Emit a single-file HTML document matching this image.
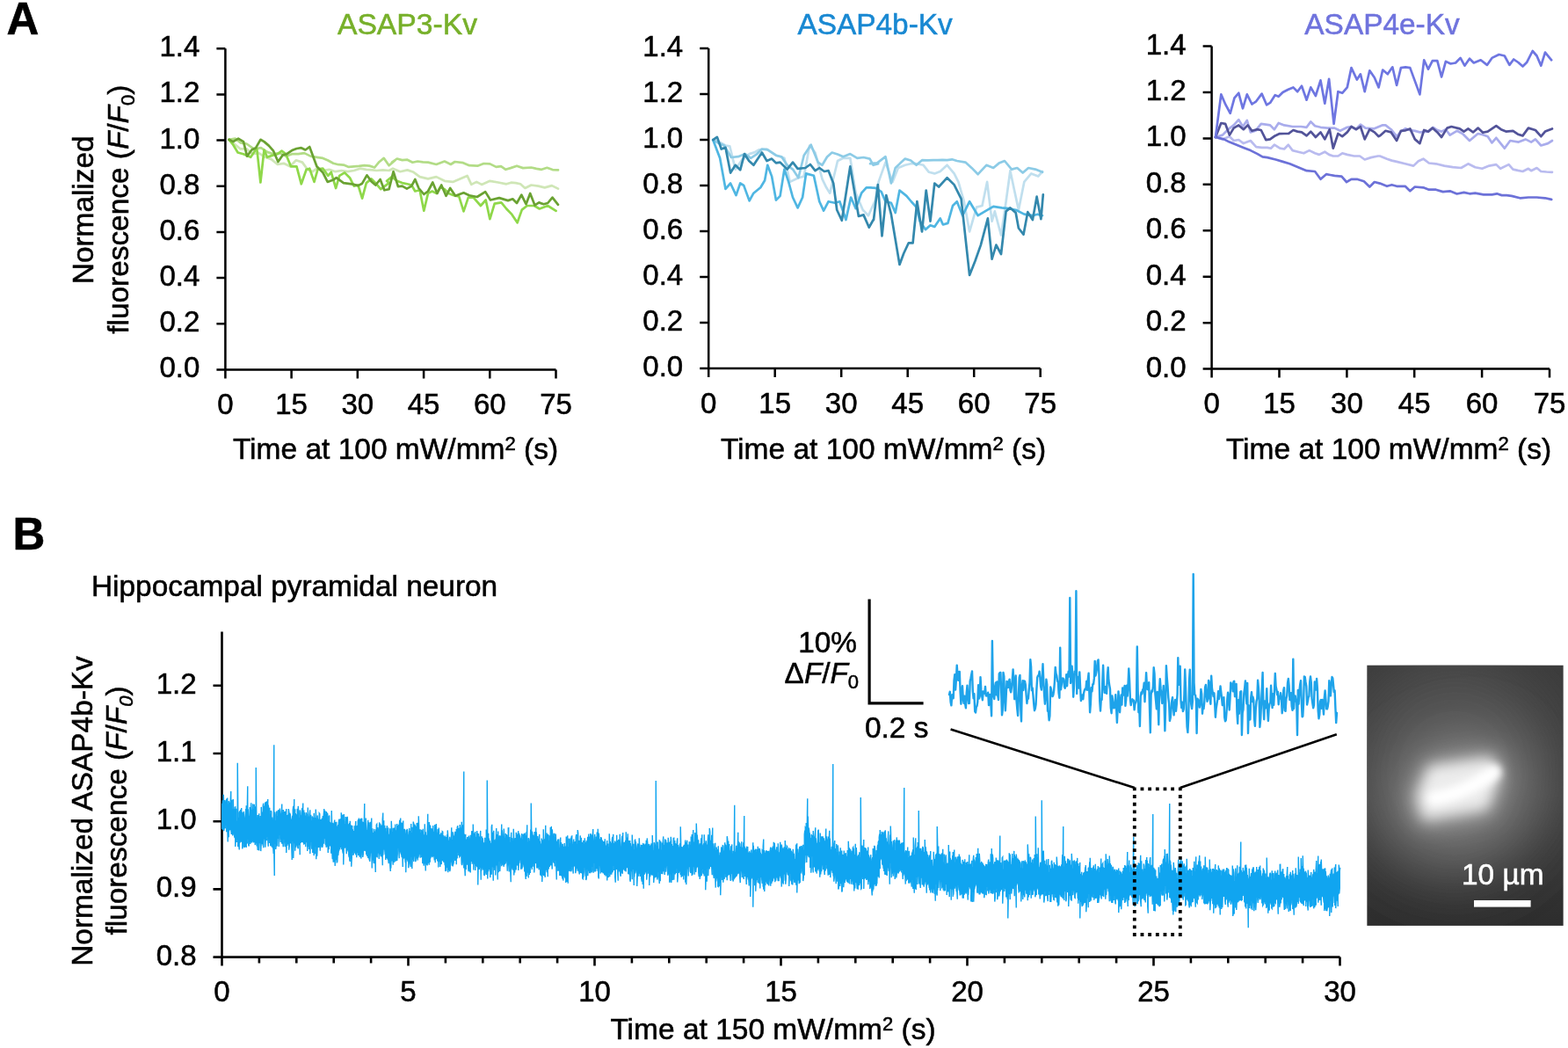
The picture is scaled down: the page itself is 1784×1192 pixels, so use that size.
<!DOCTYPE html>
<html><head><meta charset="utf-8"><title>Figure</title>
<style>html,body{margin:0;padding:0;background:#fff;} svg{display:block;} text{stroke:#000;stroke-width:0.55px;}</style>
</head><body>
<svg width="1784" height="1192" viewBox="0 0 1784 1192" font-family="Liberation Sans, Arial, sans-serif">
<rect width="1784" height="1192" fill="#fff"/>
<text x="7.5" y="39" font-size="51" font-weight="bold">A</text>
<text x="14.5" y="624.7" font-size="51" font-weight="bold">B</text>
<text x="463.5" y="39" text-anchor="middle" font-size="33.7" style="fill:#77b02a;stroke:#77b02a">ASAP3-Kv</text>
<text x="995.6" y="39" text-anchor="middle" font-size="33.4" style="fill:#1888d2;stroke:#1888d2">ASAP4b-Kv</text>
<text x="1572.5" y="39" text-anchor="middle" font-size="33.4" style="fill:#6f73dd;stroke:#6f73dd">ASAP4e-Kv</text>
<path d="M246.4,420.4H632.5M256.4,55.2V430.4" stroke="#000" stroke-width="2.5" fill="none"/>
<path d="M246.4,368.2H256.4M246.4,316.1H256.4M246.4,263.9H256.4M246.4,211.7H256.4M246.4,159.5H256.4M246.4,107.4H256.4M246.4,55.2H256.4M331.6,420.4V430.4M406.8,420.4V430.4M482.1,420.4V430.4M557.3,420.4V430.4M632.5,420.4V430.4" stroke="#000" stroke-width="2.5" fill="none"/>
<text x="227.4" y="429.4" text-anchor="end" font-size="33">0.0</text>
<text x="227.4" y="377.2" text-anchor="end" font-size="33">0.2</text>
<text x="227.4" y="325.1" text-anchor="end" font-size="33">0.4</text>
<text x="227.4" y="272.9" text-anchor="end" font-size="33">0.6</text>
<text x="227.4" y="220.7" text-anchor="end" font-size="33">0.8</text>
<text x="227.4" y="168.5" text-anchor="end" font-size="33">1.0</text>
<text x="227.4" y="116.4" text-anchor="end" font-size="33">1.2</text>
<text x="227.4" y="64.2" text-anchor="end" font-size="33">1.4</text>
<text x="256.4" y="471.0" text-anchor="middle" font-size="33">0</text>
<text x="331.6" y="471.0" text-anchor="middle" font-size="33">15</text>
<text x="406.8" y="471.0" text-anchor="middle" font-size="33">30</text>
<text x="482.1" y="471.0" text-anchor="middle" font-size="33">45</text>
<text x="557.3" y="471.0" text-anchor="middle" font-size="33">60</text>
<text x="632.5" y="471.0" text-anchor="middle" font-size="33">75</text>
<path d="M796.2,419.0H1183.7M806.2,55.0V429.0" stroke="#000" stroke-width="2.5" fill="none"/>
<path d="M796.2,367.0H806.2M796.2,315.0H806.2M796.2,263.0H806.2M796.2,211.0H806.2M796.2,159.0H806.2M796.2,107.0H806.2M796.2,55.0H806.2M881.7,419.0V429.0M957.2,419.0V429.0M1032.7,419.0V429.0M1108.2,419.0V429.0M1183.7,419.0V429.0" stroke="#000" stroke-width="2.5" fill="none"/>
<text x="777.2" y="428.0" text-anchor="end" font-size="33">0.0</text>
<text x="777.2" y="376.0" text-anchor="end" font-size="33">0.2</text>
<text x="777.2" y="324.0" text-anchor="end" font-size="33">0.4</text>
<text x="777.2" y="272.0" text-anchor="end" font-size="33">0.6</text>
<text x="777.2" y="220.0" text-anchor="end" font-size="33">0.8</text>
<text x="777.2" y="168.0" text-anchor="end" font-size="33">1.0</text>
<text x="777.2" y="116.0" text-anchor="end" font-size="33">1.2</text>
<text x="777.2" y="64.0" text-anchor="end" font-size="33">1.4</text>
<text x="806.2" y="469.6" text-anchor="middle" font-size="33">0</text>
<text x="881.7" y="469.6" text-anchor="middle" font-size="33">15</text>
<text x="957.2" y="469.6" text-anchor="middle" font-size="33">30</text>
<text x="1032.7" y="469.6" text-anchor="middle" font-size="33">45</text>
<text x="1108.2" y="469.6" text-anchor="middle" font-size="33">60</text>
<text x="1183.7" y="469.6" text-anchor="middle" font-size="33">75</text>
<path d="M1368.6,419.6H1763.0M1378.6,52.5V429.6" stroke="#000" stroke-width="2.5" fill="none"/>
<path d="M1368.6,367.2H1378.6M1368.6,314.7H1378.6M1368.6,262.3H1378.6M1368.6,209.8H1378.6M1368.6,157.4H1378.6M1368.6,104.9H1378.6M1368.6,52.5H1378.6M1455.5,419.6V429.6M1532.4,419.6V429.6M1609.2,419.6V429.6M1686.1,419.6V429.6M1763.0,419.6V429.6" stroke="#000" stroke-width="2.5" fill="none"/>
<text x="1349.6" y="428.6" text-anchor="end" font-size="33">0.0</text>
<text x="1349.6" y="376.2" text-anchor="end" font-size="33">0.2</text>
<text x="1349.6" y="323.7" text-anchor="end" font-size="33">0.4</text>
<text x="1349.6" y="271.3" text-anchor="end" font-size="33">0.6</text>
<text x="1349.6" y="218.8" text-anchor="end" font-size="33">0.8</text>
<text x="1349.6" y="166.4" text-anchor="end" font-size="33">1.0</text>
<text x="1349.6" y="113.9" text-anchor="end" font-size="33">1.2</text>
<text x="1349.6" y="61.5" text-anchor="end" font-size="33">1.4</text>
<text x="1378.6" y="470.2" text-anchor="middle" font-size="33">0</text>
<text x="1455.5" y="470.2" text-anchor="middle" font-size="33">15</text>
<text x="1532.4" y="470.2" text-anchor="middle" font-size="33">30</text>
<text x="1609.2" y="470.2" text-anchor="middle" font-size="33">45</text>
<text x="1686.1" y="470.2" text-anchor="middle" font-size="33">60</text>
<text x="1763.0" y="470.2" text-anchor="middle" font-size="33">75</text>
<text x="450.0" y="521.7" text-anchor="middle" font-size="33.5">Time at 100 mW/mm<tspan dy="-9.5" font-size="22">2</tspan><tspan dy="9.5"> (s)</tspan></text>
<text x="1005.0" y="521.7" text-anchor="middle" font-size="33.5">Time at 100 mW/mm<tspan dy="-9.5" font-size="22">2</tspan><tspan dy="9.5"> (s)</tspan></text>
<text x="1580.0" y="521.7" text-anchor="middle" font-size="33.5">Time at 100 mW/mm<tspan dy="-9.5" font-size="22">2</tspan><tspan dy="9.5"> (s)</tspan></text>
<text transform="translate(105.9,238.8) rotate(-90)" text-anchor="middle" font-size="33.4">Normalized</text>
<text transform="translate(145.8,238.2) rotate(-90)" text-anchor="middle" font-size="33.4">fluorescence (<tspan font-style="italic">F</tspan>/<tspan font-style="italic">F</tspan><tspan dy="7" font-size="22">0</tspan><tspan dy="-7">)</tspan></text>
<polyline points="260.6,158.8 266.4,163.5 273.5,169.4 280.5,169.4 287.6,175.2 294.6,174.1 301.7,178.8 308.7,181.1 315.8,187.0 322.8,185.8 329.9,189.3 336.9,182.3 344.0,184.6 349.8,192.8 355.7,195.2 360.4,191.7 367.4,194.0 374.5,192.8 381.5,195.2 388.6,194.0 395.6,195.2 402.7,194.0 409.7,191.7 416.8,192.8 423.8,193.4 428.5,194.0 435.6,193.4 442.6,194.0 447.0,191.7 455.3,195.2 463.5,193.4 470.5,195.8 477.6,201.1 487.0,203.4 496.4,201.1 505.8,205.8 515.2,206.9 522.2,204.0 531.6,199.9 536.3,209.9 542.2,206.9 548.0,209.9 557.4,205.8 566.8,207.5 576.2,209.3 581.5,207.7 586.8,208.1 592.1,209.3 597.4,214.0 604.4,210.5 612.6,211.6 619.7,213.4 627.9,211.1 635.0,214.6" fill="none" stroke="#cfe6b6" stroke-width="2.7" stroke-linejoin="round" stroke-linecap="round"/>
<polyline points="260.6,158.8 267.6,157.6 273.5,162.3 280.5,163.5 288.8,169.4 297.0,168.2 304.0,172.9 311.1,175.2 318.1,174.1 325.2,177.6 332.2,175.2 339.3,175.2 346.3,174.1 353.3,177.6 360.4,178.8 367.4,179.9 373.3,182.5 379.2,185.8 385.1,187.2 390.9,187.6 396.8,189.9 402.7,189.3 408.5,188.9 414.4,188.2 420.3,188.6 426.2,190.5 431.4,184.2 436.7,179.9 442.6,188.2 449.6,182.3 445.9,184.6 451.7,180.5 457.6,182.1 463.5,181.7 469.4,184.7 475.2,183.5 481.1,184.4 487.0,184.6 496.4,187.0 505.8,183.5 512.8,187.0 517.5,184.0 526.9,185.2 534.0,188.2 543.3,188.7 550.4,186.0 557.4,186.4 564.5,189.9 570.0,189.1 575.4,192.8 580.9,191.1 588.0,188.7 595.0,191.1 604.4,190.5 610.3,191.9 616.2,192.8 622.4,190.8 628.7,193.1 635.0,193.4" fill="none" stroke="#b2dc86" stroke-width="2.7" stroke-linejoin="round" stroke-linecap="round"/>
<polyline points="260.6,158.8 265.3,164.7 270.6,173.5 277.0,175.2 285.2,178.8 289.9,171.7 292.3,169.4 296.4,207.5 300.5,170.5 304.0,178.8 311.1,176.4 315.8,175.2 320.5,171.7 325.2,175.2 331.0,189.3 337.5,189.3 342.8,209.3 348.6,192.8 352.2,191.7 357.5,206.9 361.6,192.3 367.4,191.7 373.3,199.9 376.8,195.8 382.1,214.0 386.2,199.9 392.1,196.4 398.0,202.2 402.7,211.6 407.4,210.5 412.1,225.7 416.8,208.1 422.6,203.4 427.3,208.1 433.2,215.2 442.6,208.1 440.0,205.8 445.9,201.1 451.7,205.8 457.6,208.1 463.5,209.3 468.2,210.5 472.3,217.5 477.6,216.3 482.3,239.8 487.0,219.9 491.7,217.5 496.4,219.9 501.1,212.8 505.8,215.2 510.5,219.9 516.3,222.2 522.2,223.4 527.5,240.4 532.8,224.6 538.6,224.6 546.9,234.0 552.7,227.5 557.4,249.2 562.7,231.6 570.4,230.4 576.2,237.5 582.4,243.9 588.6,253.3 593.8,238.6 599.7,234.0 607.9,234.0 613.8,237.5 623.2,234.0 632.6,239.8" fill="none" stroke="#8fd84a" stroke-width="2.7" stroke-linejoin="round" stroke-linecap="round"/>
<polyline points="260.6,158.8 265.3,161.1 271.1,157.6 277.0,161.1 281.1,177.6 286.4,170.5 291.1,168.2 296.4,158.8 300.5,161.1 305.8,165.6 311.1,171.7 316.4,184.0 321.6,176.4 326.3,175.2 332.2,171.1 337.5,169.0 342.8,168.2 347.5,170.5 352.2,167.0 360.4,189.3 367.4,196.4 372.7,206.9 379.2,204.6 382.7,202.2 390.9,208.1 400.3,209.3 407.4,211.1 412.1,208.7 417.4,199.3 422.6,206.4 427.3,210.5 432.6,204.0 437.3,216.3 442.6,215.2 447.6,195.2 452.9,212.2 457.6,211.6 462.9,214.6 468.2,211.6 472.3,204.0 476.4,214.0 482.3,221.0 487.0,217.5 492.3,207.5 497.5,219.9 502.2,210.5 507.5,222.8 512.2,214.0 518.1,222.8 527.5,219.3 534.0,222.2 542.8,224.0 552.2,218.1 558.0,227.5 568.0,225.1 578.0,228.1 583.3,226.3 588.0,231.0 593.3,221.6 598.5,232.2 603.2,219.9 608.5,233.4 613.2,230.4 618.5,232.2 623.2,231.0 628.5,224.6 635.0,232.8" fill="none" stroke="#6aa232" stroke-width="2.7" stroke-linejoin="round" stroke-linecap="round"/>
<polyline points="811.2,159.1 818.3,161.4 825.5,165.5 830.3,166.3 836.7,192.6 844.6,181.4 852.6,175.1 858.2,173.4 863.7,170.3 872.5,169.5 877.7,173.0 882.9,176.7 892.4,179.8 898.8,206.9 908.4,202.2 914.7,200.6 921.1,165.5 927.5,173.5 935.5,203.7 940.2,213.3 944.2,219.7 953.0,183.0 959.4,179.8 967.3,179.8 973.7,219.7 981.7,238.8 988.0,245.2 996.0,227.6 999.6,206.9 1007.5,184.6 1015.5,206.9 1021.9,191.0 1029.8,187.8 1036.2,186.2 1042.6,186.2 1050.6,187.8 1056.9,195.8 1063.3,197.4 1069.7,195.0 1077.6,187.8 1085.6,197.4 1090.4,206.9 1096.8,229.2 1103.1,263.5 1111.1,235.6 1117.5,234.0 1123.1,206.9 1128.6,251.6 1131.8,240.4 1139.0,267.5 1144.6,229.2 1149.4,194.2 1154.1,216.5 1158.9,238.8 1165.3,206.9 1173.3,197.4 1181.2,200.6 1186.0,195.0" fill="none" stroke="#c0dfee" stroke-width="2.7" stroke-linejoin="round" stroke-linecap="round"/>
<polyline points="811.2,159.1 817.5,162.8 823.9,165.5 831.9,179.0 839.8,178.2 847.8,175.1 854.2,179.8 860.6,175.7 866.9,169.5 873.3,170.3 882.9,176.7 889.2,178.2 895.6,187.8 902.0,192.6 908.4,202.2 914.7,176.7 922.7,164.7 930.7,184.6 935.5,187.8 941.0,178.5 946.6,173.5 953.0,175.5 959.4,178.2 967.3,175.1 975.3,179.8 982.5,179.0 989.6,180.6 993.6,187.8 999.2,186.2 990.0,186.2 998.0,185.4 1007.5,178.2 1013.9,208.5 1018.7,191.0 1024.3,185.6 1029.8,180.6 1036.2,182.5 1042.6,187.8 1049.0,182.2 1055.3,182.3 1061.7,182.2 1067.0,182.2 1072.3,181.8 1077.6,182.2 1083.2,181.3 1088.8,183.0 1098.4,184.6 1105.5,190.9 1112.7,198.2 1122.3,187.8 1130.2,191.0 1136.6,185.6 1143.0,183.0 1151.0,192.6 1157.3,191.0 1163.7,196.6 1170.1,191.0 1178.0,192.6 1186.0,195.8" fill="none" stroke="#8ccbe6" stroke-width="2.7" stroke-linejoin="round" stroke-linecap="round"/>
<polyline points="811.2,159.1 819.1,179.8 825.5,214.9 831.1,208.5 837.5,222.1 842.2,208.5 846.2,210.9 852.6,228.4 857.4,219.7 865.3,213.3 870.1,205.3 873.3,187.8 878.1,200.6 882.9,227.6 887.6,222.9 892.4,192.6 897.2,206.9 902.0,224.5 907.6,236.4 913.1,224.5 917.1,197.4 925.9,199.8 932.3,229.2 937.1,239.6 942.6,229.2 949.8,230.8 955.4,229.2 962.5,250.0 968.1,224.5 973.7,237.2 980.1,219.7 985.7,213.3 991.2,213.3 990.0,213.3 996.4,213.9 1002.7,218.1 1007.5,229.2 1013.9,230.8 1018.7,242.0 1023.5,216.5 1031.4,222.9 1037.0,229.5 1042.6,235.6 1046.6,251.6 1052.9,261.1 1058.5,256.3 1063.3,257.9 1069.7,248.4 1072.9,255.5 1078.4,253.9 1084.0,234.0 1088.8,229.2 1095.2,245.2 1103.1,229.2 1112.7,245.2 1120.7,240.4 1130.2,234.8 1139.8,236.4 1147.8,237.2 1155.7,238.8 1165.3,243.6 1174.9,245.2 1180.4,243.7 1186.0,245.2" fill="none" stroke="#4fb6e2" stroke-width="2.7" stroke-linejoin="round" stroke-linecap="round"/>
<polyline points="811.2,159.1 815.9,155.9 820.7,169.5 825.5,167.9 831.1,196.6 836.7,187.8 842.2,193.4 847.0,175.1 852.2,183.0 857.4,187.8 866.9,173.5 872.5,183.0 878.1,180.6 882.9,185.4 887.6,184.6 895.6,192.6 902.0,184.6 907.6,191.8 916.3,191.0 921.9,187.0 927.5,194.2 932.3,191.0 937.8,195.0 942.6,194.2 948.2,208.5 952.2,238.8 957.8,250.8 967.3,189.4 976.9,246.0 982.5,244.4 988.8,258.7 993.6,250.0 994.0,250.0 998.8,210.1 1003.5,268.3 1008.3,222.1 1013.9,243.6 1023.5,301.0 1028.2,288.2 1033.8,276.3 1038.6,276.3 1043.4,229.2 1049.0,263.5 1053.7,216.5 1058.5,251.6 1063.3,208.5 1068.1,212.5 1077.6,202.2 1085.6,210.1 1093.6,226.1 1103.1,312.9 1109.5,296.7 1115.9,278.6 1123.9,248.4 1128.6,294.6 1133.4,278.6 1139.0,289.0 1144.6,240.4 1149.4,236.4 1155.7,242.0 1158.9,259.5 1164.5,266.7 1169.3,241.2 1174.9,250.0 1179.6,223.7 1184.4,249.2 1186.8,221.3" fill="none" stroke="#3388ad" stroke-width="2.7" stroke-linejoin="round" stroke-linecap="round"/>
<polyline points="1383.0,156.0 1390.9,158.4 1398.9,155.2 1403.7,160.0 1409.3,159.0 1414.8,163.1 1422.8,160.0 1429.2,167.1 1435.6,167.9 1441.9,167.9 1445.9,168.7 1449.9,164.7 1456.3,168.7 1461.1,169.5 1465.8,164.7 1470.6,171.1 1477.0,172.7 1483.4,174.3 1489.7,171.1 1496.1,174.3 1500.9,175.9 1507.3,172.7 1512.1,175.9 1516.8,177.5 1522.4,177.5 1527.2,174.3 1532.8,175.9 1540.7,177.5 1547.1,177.5 1552.7,181.5 1559.9,179.1 1567.8,177.5 1570.0,177.5 1578.0,180.7 1583.5,182.6 1589.1,183.9 1598.7,186.3 1608.2,188.6 1613.8,183.2 1619.4,180.7 1625.8,185.5 1633.7,186.3 1643.3,188.6 1652.9,190.2 1662.4,191.0 1670.4,186.3 1678.4,190.2 1686.3,191.8 1694.3,188.6 1702.3,187.1 1707.1,191.8 1716.6,187.1 1721.4,192.6 1727.0,193.9 1732.5,195.0 1738.9,191.8 1742.1,194.2 1748.5,191.0 1753.3,195.0 1759.6,195.5 1766.0,195.8" fill="none" stroke="#b9bbef" stroke-width="2.7" stroke-linejoin="round" stroke-linecap="round"/>
<polyline points="1383.0,156.0 1390.9,153.6 1397.3,147.2 1403.7,142.4 1409.3,136.1 1414.0,144.0 1418.8,136.9 1422.8,150.4 1428.4,148.8 1434.8,140.8 1440.3,141.6 1445.1,142.4 1449.9,147.2 1454.7,140.0 1461.1,142.4 1470.6,144.0 1480.2,144.0 1486.6,144.8 1491.3,138.4 1496.1,143.2 1502.5,144.8 1510.5,145.6 1518.4,145.6 1524.8,148.8 1532.8,144.8 1537.5,144.0 1542.3,147.2 1547.9,141.6 1553.5,145.6 1563.0,146.4 1572.6,142.4 1576.4,142.4 1582.7,147.2 1589.1,155.2 1593.9,149.6 1599.1,146.2 1604.3,148.0 1609.8,148.9 1615.4,150.4 1625.0,149.6 1630.6,144.8 1635.3,148.0 1640.1,149.6 1644.9,147.2 1649.7,153.6 1657.6,148.8 1664.0,152.0 1672.0,160.0 1681.6,152.0 1687.1,153.3 1692.7,155.2 1697.5,162.4 1702.3,156.8 1711.8,168.7 1718.2,160.0 1727.8,161.6 1735.7,158.4 1742.1,161.6 1746.9,158.4 1753.3,165.5 1761.2,163.1 1766.0,160.0" fill="none" stroke="#a9acec" stroke-width="2.7" stroke-linejoin="round" stroke-linecap="round"/>
<polyline points="1383.0,156.0 1392.5,158.4 1398.9,161.6 1406.9,164.7 1414.8,167.9 1422.8,171.1 1430.8,175.1 1436.4,178.3 1441.9,179.1 1451.5,181.5 1459.5,183.9 1467.4,186.3 1477.0,190.2 1486.6,194.2 1496.1,195.0 1502.5,203.8 1508.9,198.2 1513.6,199.0 1518.4,199.8 1526.4,200.6 1532.0,207.0 1537.5,203.8 1543.9,203.8 1551.9,206.2 1558.3,212.5 1563.8,207.0 1570.0,208.6 1578.0,211.8 1583.5,210.2 1589.1,211.8 1598.7,211.8 1604.3,217.3 1609.8,212.5 1619.4,213.3 1625.8,215.7 1633.7,215.7 1641.7,218.1 1649.7,217.3 1657.6,220.5 1665.6,218.9 1672.0,220.3 1678.4,219.7 1687.9,221.3 1697.5,221.3 1703.1,220.3 1708.6,222.1 1714.2,222.1 1719.8,222.9 1729.4,225.3 1738.9,224.5 1748.5,224.5 1758.0,225.3 1765.2,226.9" fill="none" stroke="#6c71d8" stroke-width="2.7" stroke-linejoin="round" stroke-linecap="round"/>
<polyline points="1383.0,156.0 1389.3,140.0 1394.1,140.8 1398.9,153.6 1403.7,145.6 1409.3,142.4 1414.8,147.2 1419.6,142.4 1424.4,148.8 1430.0,147.2 1434.8,148.0 1440.3,159.2 1445.1,158.4 1450.7,154.4 1455.9,152.1 1461.1,152.0 1466.2,151.9 1471.4,148.0 1476.2,149.6 1481.0,150.4 1486.6,154.4 1491.3,149.6 1496.9,156.0 1502.5,150.4 1507.3,158.4 1512.8,147.2 1516.8,168.7 1522.4,152.0 1527.2,155.2 1532.8,150.4 1537.5,144.0 1543.1,147.2 1547.9,144.0 1552.7,158.4 1558.3,147.2 1563.8,150.4 1568.6,155.2 1570.0,154.4 1576.4,148.8 1582.7,150.4 1589.1,160.0 1593.9,148.8 1599.1,148.3 1604.3,146.4 1609.8,158.4 1615.4,163.1 1620.2,148.0 1625.0,149.6 1629.8,145.6 1635.3,150.4 1640.1,156.0 1646.5,145.6 1651.3,144.0 1660.8,146.4 1665.6,149.6 1670.4,146.4 1676.0,150.4 1681.6,145.6 1687.1,150.8 1692.7,149.6 1702.3,143.2 1707.8,147.2 1713.4,149.6 1721.4,148.8 1727.0,152.7 1732.5,154.4 1738.9,145.6 1746.9,148.0 1753.3,155.2 1758.0,149.6 1766.0,146.4" fill="none" stroke="#525399" stroke-width="2.7" stroke-linejoin="round" stroke-linecap="round"/>
<polyline points="1383.0,156.0 1389.3,107.4 1394.5,119.2 1399.7,128.9 1404.5,111.4 1409.3,105.8 1414.0,123.3 1418.8,107.4 1424.4,118.5 1429.2,115.3 1435.6,106.6 1441.1,119.3 1445.1,116.9 1450.7,108.2 1454.7,109.8 1459.5,105.0 1465.8,101.8 1471.4,99.4 1476.2,104.2 1481.0,97.8 1486.6,113.7 1491.3,99.4 1496.9,109.0 1502.5,91.4 1507.3,117.7 1512.1,89.8 1517.6,140.8 1522.4,104.2 1527.2,105.8 1532.8,99.4 1537.5,77.1 1543.9,90.6 1547.9,84.3 1552.7,104.2 1558.3,80.3 1563.8,88.2 1568.6,99.4 1573.2,79.5 1578.8,84.3 1584.3,76.3 1589.1,97.0 1593.9,77.1 1599.1,76.3 1604.3,77.1 1609.8,92.1 1615.4,107.4 1620.2,68.3 1625.0,78.7 1629.8,69.1 1635.3,69.1 1640.1,87.5 1644.9,69.9 1650.5,72.5 1656.1,71.5 1661.6,65.9 1666.4,74.7 1672.0,66.7 1676.8,71.5 1684.7,68.3 1691.9,73.9 1697.5,65.9 1705.5,62.0 1711.8,63.5 1717.4,73.9 1722.2,67.5 1727.4,71.0 1732.5,75.5 1737.3,70.7 1743.7,58.0 1748.5,63.5 1753.3,74.7 1758.0,59.6 1765.2,68.3" fill="none" stroke="#6e76e1" stroke-width="2.7" stroke-linejoin="round" stroke-linecap="round"/>
<text x="104" y="678.3" font-size="33.4">Hippocampal pyramidal neuron</text>
<path d="M242.5,1088.6H1524.5M252.5,718.5V1098.6M242.5,1011.4H252.5M242.5,934.2H252.5M242.5,857.0H252.5M242.5,779.8H252.5M294.9,1088.6V1095.6M337.3,1088.6V1095.6M379.7,1088.6V1095.6M422.1,1088.6V1095.6M464.5,1088.6V1098.6M506.9,1088.6V1095.6M549.3,1088.6V1095.6M591.7,1088.6V1095.6M634.1,1088.6V1095.6M676.5,1088.6V1098.6M718.9,1088.6V1095.6M761.3,1088.6V1095.6M803.7,1088.6V1095.6M846.1,1088.6V1095.6M888.5,1088.6V1098.6M930.9,1088.6V1095.6M973.3,1088.6V1095.6M1015.7,1088.6V1095.6M1058.1,1088.6V1095.6M1100.5,1088.6V1098.6M1142.9,1088.6V1095.6M1185.3,1088.6V1095.6M1227.7,1088.6V1095.6M1270.1,1088.6V1095.6M1312.5,1088.6V1098.6M1354.9,1088.6V1095.6M1397.3,1088.6V1095.6M1439.7,1088.6V1095.6M1482.1,1088.6V1095.6M1524.5,1088.6V1098.6" stroke="#000" stroke-width="2.6" fill="none"/>
<text x="223.5" y="1097.6" text-anchor="end" font-size="33">0.8</text>
<text x="223.5" y="1020.4" text-anchor="end" font-size="33">0.9</text>
<text x="223.5" y="943.2" text-anchor="end" font-size="33">1.0</text>
<text x="223.5" y="866.0" text-anchor="end" font-size="33">1.1</text>
<text x="223.5" y="788.8" text-anchor="end" font-size="33">1.2</text>
<text x="252.5" y="1138.6" text-anchor="middle" font-size="33">0</text>
<text x="464.5" y="1138.6" text-anchor="middle" font-size="33">5</text>
<text x="676.5" y="1138.6" text-anchor="middle" font-size="33">10</text>
<text x="888.5" y="1138.6" text-anchor="middle" font-size="33">15</text>
<text x="1100.5" y="1138.6" text-anchor="middle" font-size="33">20</text>
<text x="1312.5" y="1138.6" text-anchor="middle" font-size="33">25</text>
<text x="1524.5" y="1138.6" text-anchor="middle" font-size="33">30</text>
<text x="879.5" y="1181.8" text-anchor="middle" font-size="33.5">Time at 150 mW/mm<tspan dy="-9.5" font-size="22">2</tspan><tspan dy="9.5"> (s)</tspan></text>
<text transform="translate(104.5,922.5) rotate(-90)" text-anchor="middle" font-size="33.4">Normalized ASAP4b-Kv</text>
<text transform="translate(143.5,922) rotate(-90)" text-anchor="middle" font-size="33.4">fluorescence (<tspan font-style="italic">F</tspan>/<tspan font-style="italic">F<tspan dy="7" font-size="22">0</tspan></tspan><tspan dy="-7">)</tspan></text>
<path d="M252.75,913.7 252.75,943.3 L253.25,935.2 253.25,910.3 L253.75,913.8 253.75,944.1 L254.25,935.1 254.25,903.8 L254.75,916.0 254.75,945.3 L255.25,939.8 255.25,911.8 L255.75,910.0 255.75,938.6 L256.25,942.3 256.25,912.4 L256.75,913.2 256.75,937.3 L257.25,939.0 257.25,911.8 L257.75,908.5 257.75,946.2 L258.25,941.9 258.25,921.7 L258.75,907.6 258.75,940.4 L259.25,957.6 259.25,914.4 L259.75,917.0 259.75,951.2 L260.25,952.2 260.25,911.2 L260.75,913.2 260.75,945.1 L261.25,939.0 261.25,913.3 L261.75,914.6 261.75,943.8 L262.25,941.1 262.25,910.2 L262.75,900.0 262.75,942.5 L263.25,949.0 263.25,912.8 L263.75,909.7 263.75,946.9 L264.25,948.3 264.25,921.3 L264.75,919.8 264.75,950.4 L265.25,948.8 265.25,908.9 L265.75,925.4 265.75,948.2 L266.25,944.7 266.25,920.0 L266.75,924.6 266.75,951.9 L267.25,952.9 267.25,918.1 L267.75,917.9 267.75,963.0 L268.25,954.8 268.25,923.7 L268.75,919.8 268.75,947.7 L269.25,958.0 269.25,935.5 L269.75,933.6 269.75,950.0 L270.25,954.5 270.25,867.8 L270.75,923.0 270.75,963.1 L271.25,951.5 271.25,929.8 L271.75,931.8 271.75,961.5 L272.25,966.4 272.25,924.5 L272.75,922.4 272.75,958.9 L273.25,955.6 273.25,931.2 L273.75,920.9 273.75,950.4 L274.25,957.8 274.25,927.6 L274.75,919.0 274.75,957.8 L275.25,948.0 275.25,923.6 L275.75,932.2 275.75,965.4 L276.25,962.8 276.25,925.1 L276.75,925.5 276.75,959.9 L277.25,954.9 277.25,922.9 L277.75,929.8 277.75,962.9 L278.25,964.1 278.25,929.7 L278.75,932.9 278.75,963.2 L279.25,958.2 279.25,929.1 L279.75,920.1 279.75,955.0 L280.25,963.9 280.25,916.3 L280.75,920.1 280.75,954.8 L281.25,959.6 281.25,923.2 L281.75,894.3 281.75,953.1 L282.25,954.1 282.25,920.2 L282.75,928.2 282.75,961.2 L283.25,962.6 283.25,928.6 L283.75,929.1 283.75,946.2 L284.25,957.6 284.25,918.1 L284.75,929.2 284.75,960.1 L285.25,953.3 285.25,928.3 L285.75,913.3 285.75,946.6 L286.25,958.5 286.25,931.9 L286.75,920.9 286.75,956.7 L287.25,956.0 287.25,921.0 L287.75,914.4 287.75,952.1 L288.25,958.5 288.25,920.0 L288.75,923.9 288.75,958.1 L289.25,952.1 289.25,914.8 L289.75,923.9 289.75,950.1 L290.25,961.1 290.25,926.7 L290.75,917.2 290.75,958.7 L291.25,949.6 291.25,872.9 L291.75,926.5 291.75,958.8 L292.25,962.4 292.25,934.0 L292.75,929.6 292.75,959.4 L293.25,966.9 293.25,926.9 L293.75,931.3 293.75,958.0 L294.25,958.5 294.25,931.2 L294.75,925.3 294.75,967.5 L295.25,954.5 295.25,931.4 L295.75,930.1 295.75,958.4 L296.25,958.5 296.25,928.1 L296.75,932.0 296.75,968.1 L297.25,958.7 297.25,917.9 L297.75,930.5 297.75,955.0 L298.25,960.0 298.25,923.4 L298.75,935.6 298.75,958.1 L299.25,961.6 299.25,916.3 L299.75,913.7 299.75,964.2 L300.25,951.5 300.25,921.4 L300.75,916.4 300.75,950.4 L301.25,954.4 301.25,932.6 L301.75,912.6 301.75,963.8 L302.25,955.2 302.25,915.1 L302.75,911.9 302.75,946.9 L303.25,956.1 303.25,921.4 L303.75,911.4 303.75,950.7 L304.25,950.7 304.25,918.0 L304.75,909.1 304.75,955.1 L305.25,962.8 305.25,915.5 L305.75,919.9 305.75,949.6 L306.25,955.2 306.25,927.5 L306.75,918.8 306.75,958.9 L307.25,952.1 307.25,927.8 L307.75,925.8 307.75,962.2 L308.25,952.1 308.25,921.9 L308.75,923.3 308.75,956.5 L309.25,963.4 309.25,934.9 L309.75,929.5 309.75,960.4 L310.25,964.4 310.25,939.0 L310.75,931.4 310.75,963.9 L311.25,971.0 311.25,938.9 L311.75,847.2 311.75,967.5 L312.25,996.0 312.25,928.9 L312.75,923.6 312.75,956.5 L313.25,959.5 313.25,934.0 L313.75,934.9 313.75,966.0 L314.25,961.3 314.25,926.7 L314.75,922.5 314.75,954.6 L315.25,962.4 315.25,937.4 L315.75,927.9 315.75,952.7 L316.25,953.7 316.25,922.6 L316.75,921.3 316.75,950.9 L317.25,963.0 317.25,927.0 L317.75,921.5 317.75,949.0 L318.25,949.5 318.25,919.6 L318.75,925.6 318.75,953.1 L319.25,958.0 319.25,933.2 L319.75,925.2 319.75,954.7 L320.25,951.8 320.25,923.3 L320.75,914.5 320.75,959.7 L321.25,955.5 321.25,932.7 L321.75,924.3 321.75,956.9 L322.25,963.2 322.25,921.0 L322.75,925.5 322.75,950.8 L323.25,954.5 323.25,923.9 L323.75,924.3 323.75,958.1 L324.25,963.3 324.25,922.7 L324.75,927.7 324.75,955.9 L325.25,958.0 325.25,933.8 L325.75,920.0 325.75,969.9 L326.25,955.9 326.25,932.7 L326.75,927.0 326.75,961.8 L327.25,957.9 327.25,930.6 L327.75,926.6 327.75,960.1 L328.25,957.5 328.25,920.0 L328.75,922.8 328.75,966.7 L329.25,962.2 329.25,926.4 L329.75,924.4 329.75,955.6 L330.25,959.1 330.25,925.5 L330.75,932.8 330.75,954.1 L331.25,959.7 331.25,931.7 L331.75,933.1 331.75,962.8 L332.25,978.1 332.25,932.3 L332.75,927.9 332.75,950.8 L333.25,957.0 333.25,921.3 L333.75,916.8 333.75,975.9 L334.25,956.5 334.25,928.2 L334.75,908.9 334.75,957.4 L335.25,959.1 335.25,936.5 L335.75,920.2 335.75,967.8 L336.25,956.4 336.25,925.1 L336.75,928.0 336.75,963.6 L337.25,959.6 337.25,926.2 L337.75,935.2 337.75,961.8 L338.25,948.5 338.25,919.8 L338.75,922.5 338.75,963.6 L339.25,965.3 339.25,916.9 L339.75,925.1 339.75,961.1 L340.25,956.8 340.25,933.7 L340.75,929.8 340.75,951.9 L341.25,972.3 341.25,921.4 L341.75,928.2 341.75,956.6 L342.25,958.8 342.25,927.3 L342.75,933.5 342.75,955.6 L343.25,957.9 343.25,923.7 L343.75,919.0 343.75,957.6 L344.25,954.4 344.25,922.8 L344.75,913.6 344.75,958.5 L345.25,956.5 345.25,933.3 L345.75,921.6 345.75,960.7 L346.25,955.6 346.25,924.2 L346.75,927.7 346.75,959.9 L347.25,957.6 347.25,928.2 L347.75,937.7 347.75,963.3 L348.25,952.6 348.25,924.1 L348.75,926.6 348.75,953.3 L349.25,958.3 349.25,932.7 L349.75,928.8 349.75,968.0 L350.25,959.3 350.25,918.5 L350.75,931.1 350.75,963.1 L351.25,952.4 351.25,928.4 L351.75,933.3 351.75,966.1 L352.25,961.4 352.25,927.1 L352.75,921.2 352.75,971.0 L353.25,960.5 353.25,935.2 L353.75,926.8 353.75,957.5 L354.25,954.8 354.25,933.1 L354.75,939.2 354.75,965.7 L355.25,960.2 355.25,928.5 L355.75,931.0 355.75,969.9 L356.25,964.7 356.25,929.8 L356.75,939.6 356.75,966.6 L357.25,973.3 357.25,924.9 L357.75,935.2 357.75,961.0 L358.25,971.3 358.25,931.0 L358.75,930.0 358.75,963.2 L359.25,959.9 359.25,920.5 L359.75,932.6 359.75,977.3 L360.25,963.8 360.25,938.0 L360.75,930.4 360.75,973.8 L361.25,961.1 361.25,927.4 L361.75,935.4 361.75,963.8 L362.25,959.6 362.25,931.6 L362.75,934.1 362.75,963.3 L363.25,963.1 363.25,924.9 L363.75,925.6 363.75,957.6 L364.25,967.7 364.25,932.2 L364.75,936.3 364.75,964.4 L365.25,961.1 365.25,932.9 L365.75,933.0 365.75,960.5 L366.25,962.7 366.25,931.4 L366.75,931.5 366.75,963.9 L367.25,961.0 367.25,928.0 L367.75,934.3 367.75,948.3 L368.25,959.7 368.25,927.2 L368.75,920.0 368.75,953.8 L369.25,952.5 369.25,927.6 L369.75,921.7 369.75,951.2 L370.25,960.6 370.25,930.1 L370.75,926.0 370.75,958.4 L371.25,963.8 371.25,923.1 L371.75,926.3 371.75,962.6 L372.25,962.1 372.25,925.2 L372.75,925.8 372.75,950.0 L373.25,970.1 373.25,933.6 L373.75,935.3 373.75,963.2 L374.25,966.2 374.25,928.6 L374.75,927.4 374.75,959.9 L375.25,962.0 375.25,934.7 L375.75,941.5 375.75,957.7 L376.25,962.6 376.25,935.5 L376.75,941.3 376.75,970.7 L377.25,961.9 377.25,922.1 L377.75,945.0 377.75,966.7 L378.25,977.3 378.25,935.8 L378.75,943.5 378.75,966.7 L379.25,980.7 379.25,942.3 L379.75,936.3 379.75,969.6 L380.25,980.5 380.25,936.6 L380.75,932.5 380.75,974.3 L381.25,984.9 381.25,940.5 L381.75,935.1 381.75,966.9 L382.25,978.3 382.25,945.6 L382.75,934.7 382.75,974.8 L383.25,981.6 383.25,939.4 L383.75,943.0 383.75,980.8 L384.25,970.1 384.25,942.7 L384.75,938.0 384.75,972.9 L385.25,968.1 385.25,936.6 L385.75,931.8 385.75,967.7 L386.25,960.7 386.25,931.6 L386.75,937.7 386.75,966.3 L387.25,954.1 387.25,933.7 L387.75,931.5 387.75,959.6 L388.25,964.0 388.25,924.2 L388.75,933.8 388.75,965.0 L389.25,964.5 389.25,927.8 L389.75,926.8 389.75,967.4 L390.25,970.7 390.25,933.9 L390.75,932.4 390.75,983.5 L391.25,960.7 391.25,926.0 L391.75,935.1 391.75,958.4 L392.25,964.8 392.25,943.9 L392.75,937.3 392.75,959.4 L393.25,964.3 393.25,929.1 L393.75,942.1 393.75,961.6 L394.25,971.2 394.25,929.5 L394.75,933.6 394.75,966.8 L395.25,965.9 395.25,928.8 L395.75,939.2 395.75,963.8 L396.25,968.8 396.25,937.5 L396.75,939.4 396.75,972.5 L397.25,975.1 397.25,945.0 L397.75,936.0 397.75,978.1 L398.25,979.9 398.25,933.7 L398.75,942.1 398.75,971.4 L399.25,976.7 399.25,946.7 L399.75,938.4 399.75,985.7 L400.25,975.0 400.25,948.4 L400.75,939.1 400.75,968.9 L401.25,969.3 401.25,943.4 L401.75,949.3 401.75,972.8 L402.25,971.7 402.25,947.9 L402.75,945.0 402.75,967.6 L403.25,964.3 403.25,939.2 L403.75,949.6 403.75,970.6 L404.25,967.3 404.25,941.4 L404.75,934.1 404.75,972.4 L405.25,959.8 405.25,939.6 L405.75,941.0 405.75,975.2 L406.25,966.8 406.25,942.7 L406.75,938.8 406.75,970.2 L407.25,962.5 407.25,934.0 L407.75,932.1 407.75,973.0 L408.25,967.2 408.25,930.5 L408.75,943.4 408.75,970.3 L409.25,974.8 409.25,934.4 L409.75,932.2 409.75,973.9 L410.25,973.5 410.25,930.7 L410.75,936.5 410.75,976.6 L411.25,971.1 411.25,935.0 L411.75,930.7 411.75,970.0 L412.25,964.3 412.25,934.6 L412.75,939.9 412.75,975.0 L413.25,971.7 413.25,940.9 L413.75,934.8 413.75,967.6 L414.25,965.2 414.25,938.0 L414.75,913.9 414.75,963.5 L415.25,968.3 415.25,938.1 L415.75,935.9 415.75,967.0 L416.25,963.2 416.25,930.5 L416.75,945.6 416.75,972.3 L417.25,966.6 417.25,944.0 L417.75,945.2 417.75,973.9 L418.25,969.1 418.25,943.3 L418.75,932.8 418.75,976.1 L419.25,969.1 419.25,940.7 L419.75,935.3 419.75,974.1 L420.25,978.4 420.25,938.3 L420.75,941.9 420.75,979.9 L421.25,972.8 421.25,936.1 L421.75,934.9 421.75,964.9 L422.25,970.5 422.25,941.1 L422.75,930.6 422.75,963.7 L423.25,987.6 423.25,947.4 L423.75,942.2 423.75,978.2 L424.25,971.2 424.25,949.1 L424.75,947.1 424.75,977.6 L425.25,982.2 425.25,951.4 L425.75,942.9 425.75,981.9 L426.25,973.3 426.25,948.3 L426.75,945.4 426.75,974.9 L427.25,991.9 427.25,949.2 L427.75,943.2 427.75,974.8 L428.25,968.2 428.25,938.1 L428.75,937.4 428.75,970.3 L429.25,975.5 429.25,944.9 L429.75,941.1 429.75,964.7 L430.25,970.4 430.25,943.4 L430.75,944.1 430.75,968.2 L431.25,977.0 431.25,943.7 L431.75,935.4 431.75,971.0 L432.25,970.1 432.25,948.0 L432.75,936.8 432.75,970.1 L433.25,974.1 433.25,941.1 L433.75,938.6 433.75,974.4 L434.25,962.7 434.25,939.5 L434.75,938.9 434.75,962.0 L435.25,984.2 435.25,931.7 L435.75,924.6 435.75,972.7 L436.25,964.8 436.25,944.9 L436.75,933.3 436.75,964.2 L437.25,966.4 437.25,943.5 L437.75,938.7 437.75,966.2 L438.25,972.2 438.25,944.8 L438.75,941.8 438.75,977.9 L439.25,973.4 439.25,946.2 L439.75,946.9 439.75,972.9 L440.25,975.9 440.25,939.3 L440.75,941.2 440.75,975.8 L441.25,977.6 441.25,943.7 L441.75,943.0 441.75,977.5 L442.25,982.3 442.25,948.7 L442.75,953.1 442.75,977.8 L443.25,980.1 443.25,954.9 L443.75,942.2 443.75,983.9 L444.25,991.0 444.25,945.7 L444.75,945.1 444.75,987.5 L445.25,974.2 445.25,933.8 L445.75,944.2 445.75,976.5 L446.25,979.5 446.25,946.2 L446.75,948.5 446.75,976.7 L447.25,983.7 447.25,941.7 L447.75,947.3 447.75,974.6 L448.25,981.1 448.25,941.5 L448.75,955.0 448.75,980.7 L449.25,964.9 449.25,949.6 L449.75,937.5 449.75,978.5 L450.25,978.8 450.25,953.2 L450.75,944.3 450.75,968.0 L451.25,978.6 451.25,946.8 L451.75,937.1 451.75,978.9 L452.25,971.0 452.25,947.8 L452.75,938.9 452.75,964.5 L453.25,962.7 453.25,943.2 L453.75,937.9 453.75,967.1 L454.25,976.2 454.25,940.8 L454.75,932.9 454.75,967.4 L455.25,968.3 455.25,935.5 L455.75,930.5 455.75,968.0 L456.25,971.5 456.25,946.5 L456.75,935.5 456.75,971.9 L457.25,975.1 457.25,948.8 L457.75,935.9 457.75,967.6 L458.25,986.1 458.25,938.2 L458.75,933.6 458.75,971.0 L459.25,975.5 459.25,943.2 L459.75,947.1 459.75,975.1 L460.25,974.2 460.25,942.8 L460.75,947.2 460.75,974.2 L461.25,981.5 461.25,952.1 L461.75,948.1 461.75,992.3 L462.25,973.6 462.25,943.7 L462.75,948.1 462.75,976.5 L463.25,977.1 463.25,942.8 L463.75,949.8 463.75,977.9 L464.25,980.0 464.25,951.5 L464.75,949.2 464.75,987.2 L465.25,981.7 465.25,947.0 L465.75,941.9 465.75,981.3 L466.25,970.8 466.25,947.6 L466.75,944.9 466.75,981.9 L467.25,986.0 467.25,953.8 L467.75,936.9 467.75,972.9 L468.25,974.3 468.25,947.2 L468.75,957.2 468.75,988.1 L469.25,976.4 469.25,941.4 L469.75,941.4 469.75,977.6 L470.25,969.6 470.25,934.6 L470.75,937.0 470.75,980.0 L471.25,973.5 471.25,943.7 L471.75,937.6 471.75,973.0 L472.25,974.0 472.25,938.6 L472.75,945.9 472.75,980.2 L473.25,977.9 473.25,939.7 L473.75,942.5 473.75,969.7 L474.25,976.5 474.25,936.0 L474.75,942.2 474.75,970.3 L475.25,978.6 475.25,935.7 L475.75,947.8 475.75,975.7 L476.25,973.4 476.25,928.3 L476.75,943.1 476.75,971.2 L477.25,970.6 477.25,945.3 L477.75,943.3 477.75,969.8 L478.25,975.7 478.25,947.0 L478.75,950.9 478.75,972.0 L479.25,971.0 479.25,944.4 L479.75,944.7 479.75,974.6 L480.25,974.7 480.25,945.4 L480.75,946.8 480.75,982.1 L481.25,976.1 481.25,942.7 L481.75,956.8 481.75,980.1 L482.25,984.7 482.25,952.7 L482.75,949.2 482.75,982.4 L483.25,971.3 483.25,937.2 L483.75,953.8 483.75,975.6 L484.25,990.5 484.25,946.4 L484.75,956.2 484.75,983.8 L485.25,974.7 485.25,949.8 L485.75,951.2 485.75,975.7 L486.25,984.4 486.25,945.0 L486.75,925.8 486.75,981.7 L487.25,978.0 487.25,944.5 L487.75,954.5 487.75,975.7 L488.25,983.8 488.25,935.1 L488.75,952.6 488.75,967.9 L489.25,980.8 489.25,939.2 L489.75,940.0 489.75,976.4 L490.25,974.2 490.25,950.2 L490.75,942.1 490.75,973.0 L491.25,973.5 491.25,942.8 L491.75,950.5 491.75,972.5 L492.25,973.4 492.25,946.2 L492.75,939.1 492.75,974.2 L493.25,970.3 493.25,945.8 L493.75,947.3 493.75,968.5 L494.25,978.4 494.25,948.2 L494.75,938.1 494.75,973.5 L495.25,981.2 495.25,950.0 L495.75,939.9 495.75,976.7 L496.25,975.8 496.25,937.1 L496.75,947.1 496.75,973.3 L497.25,977.1 497.25,947.9 L497.75,948.4 497.75,979.6 L498.25,977.9 498.25,943.1 L498.75,949.1 498.75,986.5 L499.25,974.8 499.25,941.5 L499.75,950.4 499.75,973.9 L500.25,980.1 500.25,951.9 L500.75,949.1 500.75,985.9 L501.25,977.4 501.25,955.6 L501.75,947.2 501.75,980.7 L502.25,983.1 502.25,954.7 L502.75,949.1 502.75,978.8 L503.25,978.7 503.25,945.6 L503.75,946.0 503.75,975.8 L504.25,978.4 504.25,950.1 L504.75,952.1 504.75,980.7 L505.25,976.9 505.25,953.6 L505.75,951.9 505.75,978.5 L506.25,984.2 506.25,950.4 L506.75,960.6 506.75,991.1 L507.25,979.1 507.25,952.8 L507.75,952.4 507.75,990.7 L508.25,981.8 508.25,953.8 L508.75,949.3 508.75,986.9 L509.25,983.1 509.25,944.4 L509.75,951.4 509.75,992.2 L510.25,986.5 510.25,956.3 L510.75,965.0 510.75,980.1 L511.25,989.6 511.25,956.3 L511.75,951.8 511.75,991.2 L512.25,988.8 512.25,954.3 L512.75,954.3 512.75,979.0 L513.25,980.2 513.25,956.6 L513.75,941.3 513.75,979.6 L514.25,984.8 514.25,959.9 L514.75,954.9 514.75,976.0 L515.25,985.4 515.25,946.2 L515.75,952.0 515.75,983.4 L516.25,980.3 516.25,957.3 L516.75,950.5 516.75,977.0 L517.25,971.6 517.25,953.4 L517.75,945.7 517.75,978.9 L518.25,976.0 518.25,955.9 L518.75,946.0 518.75,966.3 L519.25,983.3 519.25,943.1 L519.75,945.3 519.75,975.9 L520.25,975.7 520.25,941.0 L520.75,939.2 520.75,966.6 L521.25,969.5 521.25,942.2 L521.75,945.8 521.75,971.5 L522.25,970.8 522.25,941.7 L522.75,944.8 522.75,974.5 L523.25,973.8 523.25,938.1 L523.75,941.8 523.75,972.8 L524.25,972.8 524.25,953.0 L524.75,941.8 524.75,971.4 L525.25,983.4 525.25,934.7 L525.75,951.3 525.75,984.2 L526.25,981.3 526.25,938.2 L526.75,940.2 526.75,980.2 L527.25,977.1 527.25,945.6 L527.75,877.4 527.75,987.5 L528.25,979.4 528.25,948.5 L528.75,952.8 528.75,987.3 L529.25,996.2 529.25,949.7 L529.75,949.6 529.75,977.1 L530.25,989.0 530.25,959.1 L530.75,954.5 530.75,981.4 L531.25,983.7 531.25,958.5 L531.75,952.1 531.75,983.7 L532.25,976.3 532.25,958.5 L532.75,953.9 532.75,988.1 L533.25,991.1 533.25,950.7 L533.75,953.3 533.75,991.3 L534.25,989.9 534.25,960.3 L534.75,953.7 534.75,986.4 L535.25,992.5 535.25,949.7 L535.75,963.9 535.75,978.1 L536.25,979.8 536.25,956.9 L536.75,945.4 536.75,973.3 L537.25,982.8 537.25,945.1 L537.75,960.1 537.75,980.1 L538.25,979.1 538.25,937.6 L538.75,952.2 538.75,989.6 L539.25,979.1 539.25,947.6 L539.75,955.6 539.75,982.7 L540.25,972.1 540.25,953.2 L540.75,946.0 540.75,989.9 L541.25,980.3 541.25,952.6 L541.75,952.9 541.75,984.9 L542.25,976.5 542.25,952.9 L542.75,945.1 542.75,986.2 L543.25,982.1 543.25,947.6 L543.75,956.8 543.75,1006.4 L544.25,980.2 544.25,948.0 L544.75,960.8 544.75,982.1 L545.25,989.0 545.25,951.6 L545.75,957.0 545.75,987.1 L546.25,976.3 546.25,950.7 L546.75,944.9 546.75,979.0 L547.25,1000.7 547.25,957.0 L547.75,956.6 547.75,990.3 L548.25,987.5 548.25,951.2 L548.75,961.7 548.75,987.0 L549.25,985.3 549.25,953.2 L549.75,964.5 549.75,989.6 L550.25,979.5 550.25,962.5 L550.75,958.3 550.75,995.0 L551.25,995.3 551.25,966.9 L551.75,952.7 551.75,982.6 L552.25,989.0 552.25,967.5 L552.75,957.9 552.75,992.6 L553.25,994.9 553.25,943.5 L553.75,952.7 553.75,991.9 L554.25,990.1 554.25,887.5 L554.75,953.8 554.75,999.5 L555.25,986.6 555.25,955.6 L555.75,947.8 555.75,991.3 L556.25,985.7 556.25,953.5 L556.75,958.1 556.75,986.8 L557.25,988.8 557.25,956.3 L557.75,960.9 557.75,998.1 L558.25,987.4 558.25,958.9 L558.75,960.7 558.75,983.2 L559.25,994.7 559.25,940.5 L559.75,937.8 559.75,977.9 L560.25,986.3 560.25,947.0 L560.75,947.3 560.75,984.1 L561.25,1001.7 561.25,964.4 L561.75,944.8 561.75,976.8 L562.25,986.8 562.25,957.2 L562.75,956.4 562.75,989.8 L563.25,987.1 563.25,958.4 L563.75,955.7 563.75,995.6 L564.25,979.4 564.25,955.0 L564.75,942.1 564.75,981.9 L565.25,984.3 565.25,956.1 L565.75,949.1 565.75,979.4 L566.25,1000.4 566.25,957.0 L566.75,945.6 566.75,983.0 L567.25,992.3 567.25,953.9 L567.75,951.7 567.75,979.7 L568.25,973.2 568.25,950.3 L568.75,954.0 568.75,991.1 L569.25,982.2 569.25,950.5 L569.75,957.5 569.75,981.6 L570.25,979.0 570.25,955.0 L570.75,937.6 570.75,985.2 L571.25,978.4 571.25,944.4 L571.75,949.6 571.75,977.8 L572.25,983.7 572.25,950.8 L572.75,953.3 572.75,982.4 L573.25,985.8 573.25,942.5 L573.75,952.5 573.75,983.5 L574.25,978.3 574.25,952.9 L574.75,957.2 574.75,982.1 L575.25,981.5 575.25,947.9 L575.75,953.1 575.75,977.5 L576.25,979.8 576.25,949.2 L576.75,950.2 576.75,978.3 L577.25,990.7 577.25,951.7 L577.75,953.5 577.75,984.2 L578.25,976.2 578.25,941.9 L578.75,941.8 578.75,984.1 L579.25,991.4 579.25,954.1 L579.75,951.9 579.75,977.8 L580.25,983.1 580.25,962.7 L580.75,957.8 580.75,990.3 L581.25,1003.3 581.25,954.9 L581.75,946.7 581.75,989.4 L582.25,987.5 582.25,953.5 L582.75,953.9 582.75,986.4 L583.25,975.9 583.25,955.8 L583.75,959.4 583.75,989.7 L584.25,987.4 584.25,942.7 L584.75,956.0 584.75,995.5 L585.25,981.7 585.25,954.1 L585.75,957.1 585.75,992.6 L586.25,977.5 586.25,952.9 L586.75,954.8 586.75,985.0 L587.25,989.5 587.25,946.8 L587.75,949.5 587.75,982.9 L588.25,983.4 588.25,948.9 L588.75,951.2 588.75,977.4 L589.25,984.8 589.25,949.7 L589.75,945.2 589.75,989.9 L590.25,983.0 590.25,949.6 L590.75,947.8 590.75,982.0 L591.25,978.7 591.25,949.8 L591.75,955.7 591.75,976.5 L592.25,977.5 592.25,954.6 L592.75,954.0 592.75,988.7 L593.25,979.5 593.25,952.2 L593.75,948.0 593.75,988.4 L594.25,985.9 594.25,954.6 L594.75,958.7 594.75,981.8 L595.25,982.8 595.25,949.0 L595.75,957.6 595.75,983.5 L596.25,986.4 596.25,947.8 L596.75,953.8 596.75,991.4 L597.25,982.2 597.25,949.3 L597.75,948.4 597.75,994.3 L598.25,999.9 598.25,950.3 L598.75,959.0 598.75,987.4 L599.25,996.8 599.25,954.1 L599.75,938.2 599.75,990.8 L600.25,992.5 600.25,960.7 L600.75,957.4 600.75,988.2 L601.25,998.5 601.25,953.2 L601.75,954.7 601.75,993.9 L602.25,995.0 602.25,957.7 L602.75,956.3 602.75,991.4 L603.25,992.9 603.25,958.1 L603.75,943.4 603.75,986.8 L604.25,983.6 604.25,913.6 L604.75,951.9 604.75,980.5 L605.25,989.0 605.25,945.6 L605.75,947.6 605.75,978.3 L606.25,985.8 606.25,958.6 L606.75,949.4 606.75,979.4 L607.25,982.9 607.25,951.1 L607.75,953.4 607.75,992.5 L608.25,984.2 608.25,946.1 L608.75,948.6 608.75,981.6 L609.25,981.4 609.25,956.0 L609.75,941.6 609.75,979.7 L610.25,982.1 610.25,946.2 L610.75,953.8 610.75,986.5 L611.25,987.5 611.25,957.3 L611.75,951.1 611.75,987.1 L612.25,983.3 612.25,956.3 L612.75,954.1 612.75,984.8 L613.25,989.3 613.25,955.1 L613.75,948.9 613.75,984.1 L614.25,985.5 614.25,956.6 L614.75,963.0 614.75,995.6 L615.25,989.0 615.25,959.5 L615.75,962.1 615.75,993.6 L616.25,996.9 616.25,953.5 L616.75,958.9 616.75,1002.9 L617.25,990.8 617.25,955.3 L617.75,959.6 617.75,991.3 L618.25,995.2 618.25,943.2 L618.75,963.0 618.75,996.1 L619.25,992.8 619.25,954.2 L619.75,962.5 619.75,994.4 L620.25,997.8 620.25,960.9 L620.75,938.7 620.75,985.7 L621.25,989.7 621.25,950.1 L621.75,967.5 621.75,986.7 L622.25,992.2 622.25,947.6 L622.75,956.3 622.75,978.6 L623.25,997.2 623.25,954.1 L623.75,949.1 623.75,986.0 L624.25,986.9 624.25,957.0 L624.75,955.7 624.75,983.4 L625.25,986.1 625.25,950.2 L625.75,952.0 625.75,984.7 L626.25,982.3 626.25,940.9 L626.75,945.7 626.75,984.1 L627.25,976.8 627.25,939.9 L627.75,952.1 627.75,980.8 L628.25,988.6 628.25,943.4 L628.75,949.5 628.75,973.0 L629.25,979.0 629.25,951.0 L629.75,951.7 629.75,980.7 L630.25,981.1 630.25,948.5 L630.75,948.4 630.75,975.7 L631.25,985.4 631.25,952.2 L631.75,953.7 631.75,974.8 L632.25,979.0 632.25,948.6 L632.75,959.8 632.75,983.9 L633.25,1000.6 633.25,958.1 L633.75,956.8 633.75,986.9 L634.25,978.0 634.25,958.9 L634.75,954.7 634.75,990.7 L635.25,986.9 635.25,958.9 L635.75,954.4 635.75,983.9 L636.25,990.8 636.25,964.9 L636.75,963.9 636.75,996.0 L637.25,989.2 637.25,962.0 L637.75,952.6 637.75,996.0 L638.25,987.4 638.25,958.1 L638.75,959.9 638.75,991.0 L639.25,997.0 639.25,966.3 L639.75,962.0 639.75,999.5 L640.25,994.6 640.25,959.9 L640.75,970.1 640.75,1001.6 L641.25,994.7 641.25,964.5 L641.75,962.7 641.75,996.6 L642.25,987.9 642.25,959.0 L642.75,970.5 642.75,997.6 L643.25,998.5 643.25,962.5 L643.75,966.1 643.75,1004.0 L644.25,992.6 644.25,951.5 L644.75,968.7 644.75,1002.9 L645.25,988.8 645.25,967.6 L645.75,950.3 645.75,991.1 L646.25,1004.8 646.25,963.2 L646.75,966.5 646.75,990.7 L647.25,986.1 647.25,953.7 L647.75,955.0 647.75,983.9 L648.25,991.2 648.25,959.1 L648.75,963.1 648.75,988.0 L649.25,989.0 649.25,954.2 L649.75,953.0 649.75,991.2 L650.25,989.3 650.25,951.3 L650.75,951.1 650.75,984.1 L651.25,984.8 651.25,960.3 L651.75,961.4 651.75,988.1 L652.25,993.6 652.25,958.7 L652.75,954.6 652.75,986.2 L653.25,982.7 653.25,960.0 L653.75,958.0 653.75,985.3 L654.25,980.1 654.25,957.6 L654.75,957.6 654.75,993.2 L655.25,989.8 655.25,952.0 L655.75,949.1 655.75,987.8 L656.25,985.7 656.25,959.8 L656.75,962.1 656.75,985.7 L657.25,990.8 657.25,944.0 L657.75,947.6 657.75,984.5 L658.25,990.8 658.25,963.2 L658.75,955.8 658.75,991.5 L659.25,994.5 659.25,956.0 L659.75,968.3 659.75,985.2 L660.25,992.2 660.25,950.4 L660.75,962.5 660.75,993.0 L661.25,984.9 661.25,952.9 L661.75,962.6 661.75,991.0 L662.25,993.7 662.25,960.0 L662.75,957.9 662.75,999.0 L663.25,999.5 663.25,969.4 L663.75,955.9 663.75,998.0 L664.25,992.0 664.25,966.8 L664.75,959.7 664.75,986.5 L665.25,979.6 665.25,953.3 L665.75,963.9 665.75,988.7 L666.25,996.6 666.25,957.9 L666.75,964.3 666.75,1001.1 L667.25,999.1 667.25,956.3 L667.75,961.2 667.75,986.4 L668.25,988.9 668.25,957.3 L668.75,951.9 668.75,996.3 L669.25,988.3 669.25,963.5 L669.75,948.4 669.75,990.6 L670.25,987.3 670.25,951.4 L670.75,953.7 670.75,993.2 L671.25,990.9 671.25,962.2 L671.75,947.9 671.75,993.2 L672.25,988.7 672.25,960.8 L672.75,950.3 672.75,990.9 L673.25,991.3 673.25,950.6 L673.75,951.4 673.75,985.9 L674.25,984.1 674.25,949.9 L674.75,943.1 674.75,989.9 L675.25,992.7 675.25,955.5 L675.75,957.6 675.75,979.9 L676.25,981.9 676.25,954.5 L676.75,948.9 676.75,991.6 L677.25,985.9 677.25,954.4 L677.75,956.9 677.75,991.1 L678.25,982.3 678.25,951.5 L678.75,955.2 678.75,988.1 L679.25,983.8 679.25,946.4 L679.75,957.2 679.75,986.6 L680.25,990.9 680.25,942.8 L680.75,960.2 680.75,996.9 L681.25,999.4 681.25,947.5 L681.75,953.1 681.75,983.7 L682.25,983.4 682.25,954.2 L682.75,960.8 682.75,985.9 L683.25,993.6 683.25,961.7 L683.75,952.0 683.75,984.9 L684.25,991.6 684.25,952.8 L684.75,962.0 684.75,992.3 L685.25,988.5 685.25,955.5 L685.75,968.3 685.75,986.7 L686.25,993.5 686.25,962.0 L686.75,957.1 686.75,991.9 L687.25,992.2 687.25,957.2 L687.75,964.4 687.75,995.2 L688.25,989.4 688.25,954.3 L688.75,964.4 688.75,991.9 L689.25,996.6 689.25,961.4 L689.75,964.3 689.75,995.1 L690.25,990.3 690.25,964.0 L690.75,956.1 690.75,1001.4 L691.25,989.9 691.25,963.4 L691.75,959.4 691.75,989.0 L692.25,998.1 692.25,962.9 L692.75,968.3 692.75,991.2 L693.25,992.5 693.25,948.2 L693.75,960.0 693.75,997.2 L694.25,985.9 694.25,957.2 L694.75,959.3 694.75,982.1 L695.25,994.7 695.25,964.9 L695.75,959.1 695.75,994.7 L696.25,985.3 696.25,956.8 L696.75,951.8 696.75,992.4 L697.25,990.7 697.25,961.8 L697.75,948.9 697.75,984.9 L698.25,982.5 698.25,959.1 L698.75,964.0 698.75,989.9 L699.25,987.1 699.25,961.9 L699.75,956.6 699.75,997.8 L700.25,1003.8 700.25,957.7 L700.75,964.8 700.75,988.2 L701.25,988.3 701.25,967.3 L701.75,949.7 701.75,980.1 L702.25,988.3 702.25,963.1 L702.75,956.1 702.75,991.0 L703.25,1001.8 703.25,959.8 L703.75,954.8 703.75,990.0 L704.25,986.4 704.25,956.4 L704.75,956.4 704.75,989.8 L705.25,988.9 705.25,948.7 L705.75,962.2 705.75,995.0 L706.25,996.7 706.25,965.9 L706.75,962.4 706.75,982.6 L707.25,991.4 707.25,960.5 L707.75,950.9 707.75,993.0 L708.25,993.1 708.25,954.1 L708.75,947.0 708.75,984.1 L709.25,989.5 709.25,958.5 L709.75,961.2 709.75,985.1 L710.25,988.0 710.25,957.7 L710.75,959.6 710.75,990.6 L711.25,985.3 711.25,961.8 L711.75,955.7 711.75,980.3 L712.25,991.5 712.25,946.2 L712.75,962.5 712.75,987.1 L713.25,978.6 713.25,960.3 L713.75,952.5 713.75,986.5 L714.25,986.9 714.25,948.3 L714.75,965.9 714.75,994.2 L715.25,988.9 715.25,962.6 L715.75,956.1 715.75,987.5 L716.25,995.1 716.25,961.7 L716.75,956.0 716.75,1000.8 L717.25,1002.8 717.25,959.0 L717.75,963.6 717.75,990.5 L718.25,990.1 718.25,963.0 L718.75,963.3 718.75,989.6 L719.25,1000.3 719.25,949.6 L719.75,960.9 719.75,988.7 L720.25,984.5 720.25,969.8 L720.75,959.7 720.75,986.3 L721.25,1007.0 721.25,965.9 L721.75,975.5 721.75,997.5 L722.25,986.2 722.25,956.2 L722.75,954.6 722.75,993.5 L723.25,990.6 723.25,957.0 L723.75,961.9 723.75,988.4 L724.25,989.7 724.25,965.7 L724.75,965.1 724.75,1007.9 L725.25,997.7 725.25,963.9 L725.75,959.4 725.75,989.9 L726.25,996.7 726.25,965.0 L726.75,959.7 726.75,993.5 L727.25,991.1 727.25,953.3 L727.75,966.8 727.75,991.9 L728.25,996.9 728.25,963.6 L728.75,969.6 728.75,995.6 L729.25,991.5 729.25,960.8 L729.75,970.6 729.75,998.9 L730.25,1002.6 730.25,968.0 L730.75,961.1 730.75,996.8 L731.25,1005.9 731.25,962.7 L731.75,958.9 731.75,983.9 L732.25,1010.8 732.25,961.8 L732.75,961.1 732.75,986.7 L733.25,994.8 733.25,964.4 L733.75,960.4 733.75,990.4 L734.25,992.1 734.25,965.9 L734.75,959.9 734.75,990.7 L735.25,993.7 735.25,955.8 L735.75,964.7 735.75,1000.7 L736.25,993.9 736.25,953.4 L736.75,958.9 736.75,989.3 L737.25,989.7 737.25,961.5 L737.75,963.3 737.75,993.7 L738.25,985.0 738.25,959.9 L738.75,963.7 738.75,1007.1 L739.25,987.7 739.25,962.0 L739.75,963.1 739.75,997.1 L740.25,983.6 740.25,960.6 L740.75,963.2 740.75,988.3 L741.25,995.1 741.25,960.2 L741.75,960.7 741.75,988.8 L742.25,995.6 742.25,949.9 L742.75,966.3 742.75,984.6 L743.25,995.8 743.25,967.2 L743.75,971.2 743.75,1004.0 L744.25,996.8 744.25,958.2 L744.75,960.2 744.75,998.4 L745.25,986.9 745.25,961.3 L745.75,966.0 745.75,998.1 L746.25,990.5 746.25,888.0 L746.75,963.5 746.75,997.2 L747.25,995.3 747.25,970.4 L747.75,961.7 747.75,1000.6 L748.25,997.6 748.25,957.6 L748.75,973.5 748.75,991.9 L749.25,990.7 749.25,970.7 L749.75,965.6 749.75,997.3 L750.25,1004.9 750.25,955.9 L750.75,956.1 750.75,995.7 L751.25,1002.3 751.25,959.7 L751.75,957.1 751.75,991.0 L752.25,989.6 752.25,966.5 L752.75,970.5 752.75,994.1 L753.25,989.2 753.25,958.5 L753.75,969.2 753.75,994.1 L754.25,981.5 754.25,958.2 L754.75,951.4 754.75,988.5 L755.25,991.2 755.25,961.0 L755.75,962.4 755.75,989.3 L756.25,995.0 756.25,962.9 L756.75,954.5 756.75,986.8 L757.25,983.0 757.25,955.7 L757.75,956.3 757.75,991.8 L758.25,985.7 758.25,959.5 L758.75,958.2 758.75,983.9 L759.25,983.9 759.25,958.4 L759.75,959.9 759.75,995.8 L760.25,992.4 760.25,952.8 L760.75,958.9 760.75,991.0 L761.25,994.3 761.25,958.0 L761.75,964.5 761.75,1003.7 L762.25,1002.1 762.25,959.6 L762.75,957.0 762.75,993.8 L763.25,993.4 763.25,951.7 L763.75,956.7 763.75,1003.9 L764.25,998.9 764.25,960.1 L764.75,967.6 764.75,987.7 L765.25,1001.0 765.25,969.8 L765.75,962.1 765.75,993.0 L766.25,990.0 766.25,953.4 L766.75,953.2 766.75,1000.8 L767.25,989.4 767.25,965.4 L767.75,956.0 767.75,986.2 L768.25,994.5 768.25,959.4 L768.75,961.4 768.75,991.3 L769.25,993.1 769.25,960.6 L769.75,961.3 769.75,988.0 L770.25,986.5 770.25,957.7 L770.75,953.3 770.75,1003.4 L771.25,996.3 771.25,961.2 L771.75,963.9 771.75,990.9 L772.25,993.1 772.25,963.8 L772.75,964.8 772.75,985.4 L773.25,991.4 773.25,961.5 L773.75,959.5 773.75,989.3 L774.25,995.0 774.25,940.2 L774.75,961.9 774.75,992.1 L775.25,997.8 775.25,967.6 L775.75,963.1 775.75,993.6 L776.25,996.8 776.25,963.4 L776.75,966.7 776.75,986.5 L777.25,995.3 777.25,965.0 L777.75,962.0 777.75,1000.4 L778.25,983.4 778.25,960.8 L778.75,962.6 778.75,995.6 L779.25,992.1 779.25,963.0 L779.75,955.5 779.75,1003.8 L780.25,998.6 780.25,957.8 L780.75,968.5 780.75,1006.1 L781.25,994.4 781.25,968.3 L781.75,955.8 781.75,987.7 L782.25,987.1 782.25,962.7 L782.75,960.6 782.75,987.4 L783.25,996.4 783.25,966.2 L783.75,964.6 783.75,986.1 L784.25,983.1 784.25,957.9 L784.75,957.9 784.75,981.4 L785.25,991.7 785.25,965.7 L785.75,960.7 785.75,993.1 L786.25,985.7 786.25,951.6 L786.75,959.0 786.75,983.2 L787.25,996.1 787.25,949.1 L787.75,954.0 787.75,990.2 L788.25,994.7 788.25,956.7 L788.75,944.0 788.75,984.3 L789.25,984.9 789.25,957.5 L789.75,969.4 789.75,985.4 L790.25,994.8 790.25,964.4 L790.75,947.0 790.75,990.5 L791.25,989.4 791.25,951.0 L791.75,948.4 791.75,992.1 L792.25,985.5 792.25,936.6 L792.75,950.0 792.75,987.1 L793.25,985.4 793.25,949.6 L793.75,956.9 793.75,985.8 L794.25,981.7 794.25,963.6 L794.75,955.3 794.75,992.1 L795.25,997.2 795.25,967.5 L795.75,961.2 795.75,979.0 L796.25,1000.0 796.25,959.4 L796.75,960.4 796.75,997.8 L797.25,993.1 797.25,963.5 L797.75,953.3 797.75,994.7 L798.25,996.1 798.25,964.1 L798.75,949.2 798.75,989.0 L799.25,989.1 799.25,961.5 L799.75,963.7 799.75,992.2 L800.25,994.1 800.25,961.4 L800.75,959.4 800.75,987.4 L801.25,996.5 801.25,949.2 L801.75,963.8 801.75,989.3 L802.25,988.4 802.25,958.6 L802.75,960.1 802.75,1012.2 L803.25,993.2 803.25,956.3 L803.75,965.0 803.75,990.8 L804.25,1002.8 804.25,960.5 L804.75,961.7 804.75,988.1 L805.25,986.3 805.25,957.5 L805.75,949.3 805.75,996.3 L806.25,983.6 806.25,962.4 L806.75,952.4 806.75,982.9 L807.25,988.5 807.25,942.0 L807.75,946.0 807.75,979.1 L808.25,986.1 808.25,955.8 L808.75,958.6 808.75,985.4 L809.25,982.3 809.25,961.8 L809.75,949.7 809.75,986.6 L810.25,995.2 810.25,959.2 L810.75,941.5 810.75,987.7 L811.25,987.0 811.25,961.7 L811.75,959.2 811.75,994.1 L812.25,999.0 812.25,965.2 L812.75,968.4 812.75,993.3 L813.25,997.1 813.25,963.6 L813.75,958.7 813.75,997.6 L814.25,1009.6 814.25,973.8 L814.75,966.9 814.75,1002.4 L815.25,998.6 815.25,963.6 L815.75,971.2 815.75,997.0 L816.25,998.5 816.25,972.2 L816.75,966.1 816.75,1008.2 L817.25,1008.5 817.25,962.2 L817.75,974.7 817.75,1004.6 L818.25,1008.3 818.25,972.5 L818.75,975.3 818.75,1002.8 L819.25,1003.4 819.25,969.5 L819.75,974.6 819.75,1018.2 L820.25,997.8 820.25,972.7 L820.75,963.4 820.75,998.3 L821.25,993.6 821.25,967.3 L821.75,964.5 821.75,1000.9 L822.25,995.0 822.25,961.7 L822.75,961.9 822.75,1003.8 L823.25,998.4 823.25,967.6 L823.75,968.6 823.75,996.0 L824.25,999.8 824.25,968.5 L824.75,958.2 824.75,992.7 L825.25,993.9 825.25,961.0 L825.75,961.6 825.75,997.8 L826.25,986.1 826.25,962.5 L826.75,964.3 826.75,990.9 L827.25,1001.3 827.25,951.2 L827.75,954.8 827.75,996.3 L828.25,995.1 828.25,957.7 L828.75,956.6 828.75,994.8 L829.25,986.6 829.25,960.7 L829.75,960.7 829.75,995.2 L830.25,990.5 830.25,967.2 L830.75,971.4 830.75,995.5 L831.25,1001.9 831.25,968.4 L831.75,962.2 831.75,988.0 L832.25,994.0 832.25,968.7 L832.75,960.4 832.75,989.2 L833.25,1001.3 833.25,970.5 L833.75,977.6 833.75,1000.5 L834.25,1002.5 834.25,967.7 L834.75,975.5 834.75,993.8 L835.25,998.9 835.25,969.6 L835.75,915.8 835.75,998.6 L836.25,997.8 836.25,970.6 L836.75,970.2 836.75,995.8 L837.25,997.4 837.25,969.3 L837.75,961.7 837.75,993.7 L838.25,996.6 838.25,970.5 L838.75,964.2 838.75,986.4 L839.25,993.3 839.25,962.7 L839.75,946.8 839.75,992.6 L840.25,991.7 840.25,961.6 L840.75,960.2 840.75,992.8 L841.25,993.7 841.25,959.0 L841.75,959.8 841.75,998.3 L842.25,1004.1 842.25,964.5 L842.75,963.1 842.75,985.1 L843.25,990.5 843.25,965.4 L843.75,957.3 843.75,991.1 L844.25,998.1 844.25,964.5 L844.75,965.3 844.75,991.6 L845.25,992.4 845.25,969.2 L845.75,958.2 845.75,997.3 L846.25,999.9 846.25,964.8 L846.75,928.0 846.75,992.8 L847.25,992.0 847.25,962.9 L847.75,965.1 847.75,997.1 L848.25,992.4 848.25,966.5 L848.75,965.2 848.75,996.3 L849.25,1005.9 849.25,966.9 L849.75,962.7 849.75,994.0 L850.25,998.0 850.25,969.1 L850.75,963.0 850.75,995.1 L851.25,1000.4 851.25,970.8 L851.75,969.6 851.75,998.7 L852.25,1007.5 852.25,971.4 L852.75,968.2 852.75,992.3 L853.25,1003.0 853.25,969.8 L853.75,975.0 853.75,1020.1 L854.25,1000.9 854.25,974.5 L854.75,966.5 854.75,992.8 L855.25,999.5 855.25,971.1 L855.75,970.8 855.75,996.6 L856.25,996.9 856.25,971.6 L856.75,958.2 856.75,1031.8 L857.25,995.7 857.25,961.7 L857.75,972.7 857.75,994.8 L858.25,1001.0 858.25,966.8 L858.75,976.4 858.75,1007.3 L859.25,995.0 859.25,967.4 L859.75,965.7 859.75,1013.8 L860.25,1001.1 860.25,968.5 L860.75,973.5 860.75,999.3 L861.25,1000.0 861.25,965.7 L861.75,968.1 861.75,997.8 L862.25,1004.1 862.25,962.8 L862.75,967.8 862.75,998.7 L863.25,994.2 863.25,970.0 L863.75,965.0 863.75,1005.2 L864.25,997.6 864.25,964.9 L864.75,967.7 864.75,1010.5 L865.25,993.2 865.25,969.9 L865.75,976.2 865.75,997.8 L866.25,996.0 866.25,971.2 L866.75,972.6 866.75,999.9 L867.25,1005.0 867.25,967.5 L867.75,968.4 867.75,997.0 L868.25,1008.8 868.25,962.4 L868.75,954.5 868.75,1011.8 L869.25,996.6 869.25,967.0 L869.75,972.4 869.75,1014.0 L870.25,998.0 870.25,970.5 L870.75,970.3 870.75,1007.0 L871.25,998.0 871.25,967.5 L871.75,969.7 871.75,998.5 L872.25,1003.2 872.25,967.4 L872.75,971.5 872.75,1005.2 L873.25,1001.6 873.25,970.3 L873.75,968.1 873.75,1006.3 L874.25,993.6 874.25,973.1 L874.75,967.7 874.75,1007.4 L875.25,1001.4 875.25,972.0 L875.75,969.7 875.75,998.7 L876.25,999.3 876.25,967.6 L876.75,963.5 876.75,1007.8 L877.25,999.3 877.25,969.3 L877.75,966.7 877.75,1004.9 L878.25,1000.9 878.25,964.3 L878.75,970.1 878.75,999.1 L879.25,1002.5 879.25,962.4 L879.75,971.5 879.75,998.7 L880.25,994.8 880.25,957.7 L880.75,974.0 880.75,994.7 L881.25,1000.2 881.25,958.7 L881.75,967.5 881.75,1003.2 L882.25,998.5 882.25,968.2 L882.75,966.4 882.75,1001.6 L883.25,991.8 883.25,969.5 L883.75,963.3 883.75,995.7 L884.25,998.3 884.25,968.0 L884.75,972.2 884.75,997.6 L885.25,1002.3 885.25,959.3 L885.75,972.9 885.75,993.2 L886.25,1002.2 886.25,969.3 L886.75,971.9 886.75,996.4 L887.25,995.1 887.25,972.9 L887.75,957.8 887.75,991.9 L888.25,998.7 888.25,962.8 L888.75,963.5 888.75,995.6 L889.25,1008.6 889.25,960.5 L889.75,964.2 889.75,1004.4 L890.25,996.5 890.25,966.8 L890.75,964.5 890.75,993.7 L891.25,1005.7 891.25,965.1 L891.75,974.9 891.75,994.4 L892.25,990.5 892.25,963.2 L892.75,966.1 892.75,990.6 L893.25,1001.7 893.25,956.1 L893.75,969.1 893.75,1005.8 L894.25,999.6 894.25,965.2 L894.75,966.1 894.75,988.5 L895.25,992.0 895.25,962.3 L895.75,962.9 895.75,992.0 L896.25,995.1 896.25,966.6 L896.75,967.3 896.75,993.9 L897.25,995.8 897.25,967.4 L897.75,964.3 897.75,1008.0 L898.25,998.1 898.25,967.2 L898.75,968.0 898.75,992.0 L899.25,993.3 899.25,965.0 L899.75,972.1 899.75,1000.9 L900.25,1002.3 900.25,967.7 L900.75,969.3 900.75,1004.8 L901.25,1006.0 901.25,970.8 L901.75,973.4 901.75,1006.5 L902.25,998.5 902.25,965.8 L902.75,972.8 902.75,997.7 L903.25,1000.4 903.25,970.7 L903.75,979.3 903.75,1003.3 L904.25,1003.4 904.25,979.9 L904.75,977.1 904.75,997.1 L905.25,1001.7 905.25,972.1 L905.75,960.5 905.75,1006.8 L906.25,997.0 906.25,970.7 L906.75,959.3 906.75,1015.4 L907.25,1000.1 907.25,970.3 L907.75,965.5 907.75,995.6 L908.25,1001.5 908.25,974.5 L908.75,970.1 908.75,996.9 L909.25,1005.2 909.25,969.7 L909.75,962.7 909.75,1002.7 L910.25,1003.1 910.25,964.5 L910.75,962.8 910.75,993.5 L911.25,992.1 911.25,964.7 L911.75,962.1 911.75,985.9 L912.25,987.4 912.25,964.0 L912.75,968.4 912.75,990.2 L913.25,994.4 913.25,963.3 L913.75,960.8 913.75,1002.1 L914.25,997.4 914.25,972.3 L914.75,966.5 914.75,993.4 L915.25,995.5 915.25,949.0 L915.75,944.5 915.75,981.5 L916.25,970.9 916.25,941.3 L916.75,942.0 916.75,973.0 L917.25,964.9 917.25,936.1 L917.75,937.2 917.75,981.1 L918.25,965.2 918.25,940.6 L918.75,908.2 918.75,972.9 L919.25,972.8 919.25,928.6 L919.75,948.6 919.75,971.7 L920.25,975.2 920.25,941.7 L920.75,945.7 920.75,974.5 L921.25,975.0 921.25,947.2 L921.75,957.9 921.75,987.1 L922.25,977.0 922.25,953.1 L922.75,955.5 922.75,992.7 L923.25,986.0 923.25,948.9 L923.75,952.3 923.75,973.4 L924.25,973.1 924.25,949.9 L924.75,952.7 924.75,986.7 L925.25,992.4 925.25,945.1 L925.75,954.0 925.75,985.7 L926.25,977.8 926.25,951.5 L926.75,954.4 926.75,986.6 L927.25,977.0 927.25,951.0 L927.75,941.2 927.75,991.5 L928.25,986.2 928.25,953.3 L928.75,960.3 928.75,988.1 L929.25,993.6 929.25,959.8 L929.75,958.8 929.75,990.3 L930.25,988.2 930.25,963.1 L930.75,944.3 930.75,983.4 L931.25,988.7 931.25,943.5 L931.75,963.0 931.75,984.8 L932.25,991.1 932.25,958.1 L932.75,963.1 932.75,997.7 L933.25,987.2 933.25,947.6 L933.75,966.2 933.75,994.5 L934.25,985.2 934.25,951.2 L934.75,957.6 934.75,991.1 L935.25,983.8 935.25,951.3 L935.75,953.5 935.75,983.4 L936.25,982.6 936.25,951.3 L936.75,959.0 936.75,988.9 L937.25,987.8 937.25,953.3 L937.75,960.4 937.75,989.8 L938.25,995.1 938.25,958.5 L938.75,956.3 938.75,979.5 L939.25,990.6 939.25,956.1 L939.75,942.5 939.75,976.5 L940.25,983.6 940.25,954.5 L940.75,951.2 940.75,986.5 L941.25,985.7 941.25,959.2 L941.75,954.4 941.75,989.0 L942.25,995.7 942.25,955.5 L942.75,951.7 942.75,987.2 L943.25,995.0 943.25,954.6 L943.75,944.7 943.75,994.0 L944.25,983.3 944.25,953.4 L944.75,970.8 944.75,998.1 L945.25,987.4 945.25,967.6 L945.75,966.8 945.75,988.7 L946.25,990.1 946.25,963.7 L946.75,963.2 946.75,988.8 L947.25,992.9 947.25,962.9 L947.75,869.1 947.75,989.4 L948.25,996.6 948.25,963.3 L948.75,964.5 948.75,1002.7 L949.25,998.1 949.25,959.9 L949.75,956.0 949.75,995.1 L950.25,993.6 950.25,965.0 L950.75,966.6 950.75,996.4 L951.25,1005.3 951.25,976.0 L951.75,959.9 951.75,997.4 L952.25,1002.8 952.25,970.1 L952.75,971.0 952.75,1000.0 L953.25,995.3 953.25,961.4 L953.75,968.1 953.75,1011.5 L954.25,1010.1 954.25,973.0 L954.75,973.2 954.75,1000.2 L955.25,1001.1 955.25,968.4 L955.75,975.9 955.75,1008.1 L956.25,998.6 956.25,964.2 L956.75,976.1 956.75,997.2 L957.25,1005.3 957.25,975.5 L957.75,967.6 957.75,1014.4 L958.25,1013.3 958.25,972.3 L958.75,972.4 958.75,994.5 L959.25,1002.7 959.25,978.9 L959.75,972.0 959.75,1009.2 L960.25,1001.6 960.25,967.6 L960.75,981.3 960.75,1000.9 L961.25,1004.1 961.25,975.0 L961.75,970.8 961.75,1001.6 L962.25,997.6 962.25,970.1 L962.75,975.1 962.75,996.5 L963.25,1000.2 963.25,975.8 L963.75,973.9 963.75,1003.2 L964.25,997.8 964.25,967.0 L964.75,971.9 964.75,1002.8 L965.25,1004.4 965.25,956.8 L965.75,969.9 965.75,1000.5 L966.25,992.8 966.25,964.4 L966.75,969.4 966.75,1005.6 L967.25,988.6 967.25,966.3 L967.75,966.8 967.75,998.2 L968.25,999.7 968.25,971.5 L968.75,971.4 968.75,1005.8 L969.25,1002.3 969.25,967.8 L969.75,976.4 969.75,1002.0 L970.25,990.3 970.25,964.4 L970.75,963.6 970.75,1005.4 L971.25,1005.1 971.25,964.7 L971.75,975.1 971.75,1013.5 L972.25,1000.3 972.25,971.9 L972.75,976.9 972.75,1010.6 L973.25,996.5 973.25,959.7 L973.75,981.4 973.75,1003.2 L974.25,1003.0 974.25,964.1 L974.75,973.2 974.75,1004.1 L975.25,1011.1 975.25,973.8 L975.75,976.4 975.75,1002.0 L976.25,1011.8 976.25,974.6 L976.75,972.4 976.75,1007.1 L977.25,1004.4 977.25,978.5 L977.75,969.2 977.75,1007.1 L978.25,999.9 978.25,974.7 L978.75,975.8 978.75,1004.8 L979.25,996.2 979.25,907.0 L979.75,963.1 979.75,1011.1 L980.25,1010.5 980.25,968.2 L980.75,961.6 980.75,997.2 L981.25,995.6 981.25,963.8 L981.75,963.3 981.75,999.9 L982.25,995.9 982.25,968.9 L982.75,954.9 982.75,1010.9 L983.25,992.1 983.25,964.4 L983.75,964.7 983.75,999.6 L984.25,993.6 984.25,964.0 L984.75,973.4 984.75,998.4 L985.25,998.2 985.25,965.0 L985.75,976.3 985.75,1001.0 L986.25,997.8 986.25,970.4 L986.75,967.5 986.75,1000.5 L987.25,995.9 987.25,973.5 L987.75,963.5 987.75,1006.2 L988.25,1001.1 988.25,972.4 L988.75,975.1 988.75,999.1 L989.25,1002.5 989.25,975.9 L989.75,978.9 989.75,1011.0 L990.25,1007.5 990.25,975.7 L990.75,972.2 990.75,1009.4 L991.25,1004.1 991.25,979.2 L991.75,979.4 991.75,1012.1 L992.25,1018.5 992.25,977.6 L992.75,975.2 992.75,1014.1 L993.25,1010.2 993.25,965.0 L993.75,975.3 993.75,1011.8 L994.25,1004.8 994.25,978.4 L994.75,961.7 994.75,999.1 L995.25,1006.2 995.25,962.2 L995.75,969.1 995.75,994.3 L996.25,1007.9 996.25,971.6 L996.75,980.4 996.75,1001.7 L997.25,1007.6 997.25,967.0 L997.75,973.6 997.75,1005.2 L998.25,990.4 998.25,963.3 L998.75,960.9 998.75,997.2 L999.25,986.3 999.25,957.8 L999.75,956.4 999.75,976.9 L1000.25,998.4 1000.25,952.2 L1000.75,948.6 1000.75,974.4 L1001.25,988.2 1001.25,944.1 L1001.75,952.7 1001.75,978.3 L1002.25,975.2 1002.25,954.4 L1002.75,949.1 1002.75,974.1 L1003.25,977.2 1003.25,945.8 L1003.75,951.2 1003.75,982.3 L1004.25,983.7 1004.25,949.9 L1004.75,946.6 1004.75,982.6 L1005.25,988.3 1005.25,950.2 L1005.75,950.1 1005.75,991.0 L1006.25,989.1 1006.25,945.5 L1006.75,953.9 1006.75,994.8 L1007.25,990.3 1007.25,944.3 L1007.75,954.4 1007.75,987.3 L1008.25,995.1 1008.25,953.4 L1008.75,963.2 1008.75,987.0 L1009.25,995.9 1009.25,957.2 L1009.75,963.5 1009.75,977.0 L1010.25,987.0 1010.25,955.7 L1010.75,945.4 1010.75,986.8 L1011.25,990.9 1011.25,964.1 L1011.75,960.4 1011.75,979.7 L1012.25,1005.7 1012.25,960.4 L1012.75,949.6 1012.75,980.7 L1013.25,981.7 1013.25,939.4 L1013.75,955.1 1013.75,987.0 L1014.25,998.3 1014.25,957.0 L1014.75,962.0 1014.75,993.6 L1015.25,989.0 1015.25,963.4 L1015.75,965.9 1015.75,988.6 L1016.25,996.6 1016.25,956.3 L1016.75,962.9 1016.75,986.7 L1017.25,992.0 1017.25,956.4 L1017.75,955.2 1017.75,992.4 L1018.25,1000.0 1018.25,967.0 L1018.75,968.1 1018.75,992.0 L1019.25,989.9 1019.25,959.3 L1019.75,955.6 1019.75,998.5 L1020.25,994.1 1020.25,952.4 L1020.75,965.3 1020.75,992.8 L1021.25,982.1 1021.25,957.7 L1021.75,955.6 1021.75,991.7 L1022.25,993.6 1022.25,964.4 L1022.75,956.1 1022.75,987.3 L1023.25,991.6 1023.25,955.6 L1023.75,960.8 1023.75,988.5 L1024.25,987.4 1024.25,962.2 L1024.75,959.9 1024.75,989.7 L1025.25,990.6 1025.25,960.5 L1025.75,958.8 1025.75,989.3 L1026.25,989.4 1026.25,963.7 L1026.75,959.3 1026.75,991.7 L1027.25,1000.0 1027.25,958.1 L1027.75,960.7 1027.75,996.2 L1028.25,991.1 1028.25,960.1 L1028.75,896.0 1028.75,994.3 L1029.25,993.0 1029.25,977.3 L1029.75,970.0 1029.75,993.9 L1030.25,1005.6 1030.25,969.0 L1030.75,967.3 1030.75,997.8 L1031.25,993.3 1031.25,968.0 L1031.75,970.6 1031.75,1000.5 L1032.25,999.8 1032.25,974.5 L1032.75,963.6 1032.75,1000.1 L1033.25,995.7 1033.25,975.6 L1033.75,975.6 1033.75,1004.5 L1034.25,1003.0 1034.25,967.9 L1034.75,979.2 1034.75,1004.7 L1035.25,1002.3 1035.25,974.0 L1035.75,975.2 1035.75,1003.4 L1036.25,999.9 1036.25,973.1 L1036.75,974.1 1036.75,1002.4 L1037.25,1008.7 1037.25,973.7 L1037.75,969.5 1037.75,994.9 L1038.25,1000.6 1038.25,969.4 L1038.75,966.4 1038.75,1010.9 L1039.25,1009.0 1039.25,952.4 L1039.75,975.4 1039.75,1003.8 L1040.25,1015.8 1040.25,975.9 L1040.75,972.1 1040.75,1001.1 L1041.25,1010.9 1041.25,961.7 L1041.75,953.2 1041.75,993.8 L1042.25,1012.0 1042.25,970.5 L1042.75,964.2 1042.75,992.2 L1043.25,998.0 1043.25,968.3 L1043.75,962.9 1043.75,1005.9 L1044.25,997.3 1044.25,957.9 L1044.75,968.8 1044.75,995.9 L1045.25,996.0 1045.25,922.0 L1045.75,973.0 1045.75,1005.5 L1046.25,996.4 1046.25,972.3 L1046.75,964.8 1046.75,1004.3 L1047.25,1009.9 1047.25,974.7 L1047.75,964.8 1047.75,992.5 L1048.25,998.7 1048.25,967.6 L1048.75,977.2 1048.75,993.9 L1049.25,1006.4 1049.25,970.1 L1049.75,962.8 1049.75,1005.4 L1050.25,1005.8 1050.25,963.9 L1050.75,973.6 1050.75,1005.8 L1051.25,1008.7 1051.25,968.9 L1051.75,972.1 1051.75,1006.2 L1052.25,1002.7 1052.25,955.0 L1052.75,969.9 1052.75,1002.5 L1053.25,1001.8 1053.25,963.3 L1053.75,973.5 1053.75,1000.4 L1054.25,1015.8 1054.25,968.4 L1054.75,970.8 1054.75,1005.9 L1055.25,1005.9 1055.25,972.2 L1055.75,975.5 1055.75,1000.1 L1056.25,1004.4 1056.25,977.0 L1056.75,975.2 1056.75,1004.7 L1057.25,1009.9 1057.25,972.6 L1057.75,984.6 1057.75,1012.5 L1058.25,1010.4 1058.25,981.4 L1058.75,968.1 1058.75,1015.4 L1059.25,1011.0 1059.25,979.9 L1059.75,979.2 1059.75,1005.2 L1060.25,1011.1 1060.25,978.0 L1060.75,985.1 1060.75,1014.7 L1061.25,1014.9 1061.25,989.0 L1061.75,985.1 1061.75,1010.8 L1062.25,1010.3 1062.25,968.8 L1062.75,984.7 1062.75,1010.4 L1063.25,1016.7 1063.25,982.1 L1063.75,977.1 1063.75,1008.6 L1064.25,1024.8 1064.25,978.6 L1064.75,971.5 1064.75,1006.1 L1065.25,1003.8 1065.25,981.7 L1065.75,970.6 1065.75,1016.3 L1066.25,1018.6 1066.25,940.0 L1066.75,963.1 1066.75,1012.6 L1067.25,999.7 1067.25,968.0 L1067.75,962.5 1067.75,1009.9 L1068.25,1001.4 1068.25,975.4 L1068.75,971.1 1068.75,999.8 L1069.25,999.2 1069.25,973.2 L1069.75,979.5 1069.75,1013.1 L1070.25,1003.2 1070.25,972.4 L1070.75,972.3 1070.75,1002.9 L1071.25,1001.9 1071.25,971.6 L1071.75,970.5 1071.75,1009.0 L1072.25,1008.3 1072.25,979.3 L1072.75,965.7 1072.75,1001.7 L1073.25,1012.4 1073.25,984.2 L1073.75,980.6 1073.75,1008.8 L1074.25,1013.6 1074.25,971.5 L1074.75,975.0 1074.75,1008.2 L1075.25,1013.2 1075.25,982.7 L1075.75,987.1 1075.75,1006.0 L1076.25,1003.1 1076.25,972.2 L1076.75,983.5 1076.75,1002.5 L1077.25,1018.0 1077.25,985.9 L1077.75,982.1 1077.75,1014.9 L1078.25,1008.3 1078.25,981.6 L1078.75,986.7 1078.75,1010.5 L1079.25,1013.8 1079.25,961.0 L1079.75,984.8 1079.75,1012.6 L1080.25,1020.1 1080.25,975.0 L1080.75,968.6 1080.75,1011.1 L1081.25,1007.7 1081.25,975.8 L1081.75,979.3 1081.75,1000.6 L1082.25,1023.7 1082.25,978.8 L1082.75,979.5 1082.75,1009.4 L1083.25,1011.5 1083.25,987.4 L1083.75,972.9 1083.75,1007.7 L1084.25,1019.9 1084.25,969.0 L1084.75,972.8 1084.75,1017.6 L1085.25,1007.5 1085.25,980.7 L1085.75,966.5 1085.75,998.7 L1086.25,1010.7 1086.25,980.4 L1086.75,981.8 1086.75,1001.9 L1087.25,1008.3 1087.25,974.7 L1087.75,978.5 1087.75,1008.0 L1088.25,1014.3 1088.25,977.3 L1088.75,982.3 1088.75,1012.9 L1089.25,1022.8 1089.25,974.6 L1089.75,977.2 1089.75,1005.0 L1090.25,1005.8 1090.25,974.0 L1090.75,979.2 1090.75,1008.9 L1091.25,1012.7 1091.25,971.5 L1091.75,980.5 1091.75,1012.3 L1092.25,1018.4 1092.25,974.2 L1092.75,980.7 1092.75,1015.3 L1093.25,1010.0 1093.25,981.7 L1093.75,987.4 1093.75,1016.5 L1094.25,1015.9 1094.25,984.5 L1094.75,983.4 1094.75,1008.1 L1095.25,1021.6 1095.25,977.9 L1095.75,984.1 1095.75,1017.8 L1096.25,1021.7 1096.25,984.7 L1096.75,980.0 1096.75,1017.8 L1097.25,1016.8 1097.25,984.6 L1097.75,977.2 1097.75,1007.8 L1098.25,1015.2 1098.25,985.6 L1098.75,983.8 1098.75,1015.2 L1099.25,1016.4 1099.25,980.8 L1099.75,988.1 1099.75,1009.5 L1100.25,1014.5 1100.25,990.5 L1100.75,980.1 1100.75,1013.4 L1101.25,1023.6 1101.25,984.6 L1101.75,983.8 1101.75,1017.9 L1102.25,1005.2 1102.25,987.4 L1102.75,972.3 1102.75,1008.8 L1103.25,1007.7 1103.25,984.1 L1103.75,983.1 1103.75,1009.3 L1104.25,1011.2 1104.25,982.4 L1104.75,987.6 1104.75,1025.4 L1105.25,1011.7 1105.25,984.0 L1105.75,978.7 1105.75,1016.8 L1106.25,1025.9 1106.25,992.3 L1106.75,986.3 1106.75,1011.9 L1107.25,1014.7 1107.25,977.9 L1107.75,972.7 1107.75,1025.8 L1108.25,1013.4 1108.25,977.7 L1108.75,979.5 1108.75,1011.3 L1109.25,1007.7 1109.25,980.5 L1109.75,986.0 1109.75,1008.1 L1110.25,1003.3 1110.25,975.0 L1110.75,976.3 1110.75,1005.6 L1111.25,1005.9 1111.25,971.1 L1111.75,986.6 1111.75,1014.3 L1112.25,1015.8 1112.25,982.5 L1112.75,964.7 1112.75,1008.9 L1113.25,1009.0 1113.25,981.8 L1113.75,976.3 1113.75,1014.9 L1114.25,1017.3 1114.25,970.7 L1114.75,978.5 1114.75,1017.3 L1115.25,1015.1 1115.25,987.6 L1115.75,981.3 1115.75,1014.1 L1116.25,1006.6 1116.25,982.7 L1116.75,980.0 1116.75,1015.5 L1117.25,1011.4 1117.25,984.3 L1117.75,981.3 1117.75,1015.7 L1118.25,1015.7 1118.25,982.3 L1118.75,987.3 1118.75,1016.7 L1119.25,1011.4 1119.25,984.0 L1119.75,986.2 1119.75,1021.3 L1120.25,1016.6 1120.25,989.8 L1120.75,985.3 1120.75,1012.1 L1121.25,1008.5 1121.25,990.0 L1121.75,982.7 1121.75,1017.2 L1122.25,1017.4 1122.25,986.6 L1122.75,982.9 1122.75,1005.7 L1123.25,1008.6 1123.25,985.0 L1123.75,986.2 1123.75,1012.6 L1124.25,1013.4 1124.25,981.2 L1124.75,977.6 1124.75,1016.6 L1125.25,1012.5 1125.25,987.9 L1125.75,982.6 1125.75,1010.4 L1126.25,1012.0 1126.25,980.2 L1126.75,981.2 1126.75,1011.0 L1127.25,1016.1 1127.25,971.3 L1127.75,979.6 1127.75,1008.3 L1128.25,1013.7 1128.25,965.1 L1128.75,985.9 1128.75,1016.6 L1129.25,1005.3 1129.25,971.5 L1129.75,976.4 1129.75,1016.4 L1130.25,1015.0 1130.25,982.6 L1130.75,990.2 1130.75,1011.6 L1131.25,1005.2 1131.25,987.4 L1131.75,980.3 1131.75,1025.6 L1132.25,1021.2 1132.25,980.0 L1132.75,986.9 1132.75,1013.6 L1133.25,1014.0 1133.25,975.6 L1133.75,979.9 1133.75,1009.7 L1134.25,1008.8 1134.25,987.0 L1134.75,978.2 1134.75,1023.2 L1135.25,1018.8 1135.25,989.1 L1135.75,978.4 1135.75,1013.4 L1136.25,1009.9 1136.25,984.1 L1136.75,979.4 1136.75,1019.4 L1137.25,1015.2 1137.25,983.4 L1137.75,950.6 1137.75,1014.0 L1138.25,1013.0 1138.25,986.4 L1138.75,981.1 1138.75,1011.8 L1139.25,1010.5 1139.25,983.7 L1139.75,984.1 1139.75,1012.2 L1140.25,1010.2 1140.25,975.8 L1140.75,975.0 1140.75,1027.7 L1141.25,1014.0 1141.25,989.2 L1141.75,989.8 1141.75,1009.4 L1142.25,1008.1 1142.25,980.1 L1142.75,978.7 1142.75,1013.9 L1143.25,1007.6 1143.25,983.8 L1143.75,978.8 1143.75,1011.1 L1144.25,1004.7 1144.25,979.2 L1144.75,978.7 1144.75,1020.5 L1145.25,1010.6 1145.25,990.3 L1145.75,978.8 1145.75,1016.4 L1146.25,1022.9 1146.25,979.6 L1146.75,980.4 1146.75,1044.4 L1147.25,1019.4 1147.25,985.3 L1147.75,980.8 1147.75,1016.6 L1148.25,1016.4 1148.25,970.2 L1148.75,987.2 1148.75,1012.0 L1149.25,1023.1 1149.25,971.5 L1149.75,987.0 1149.75,1012.7 L1150.25,1009.1 1150.25,985.9 L1150.75,983.1 1150.75,1016.6 L1151.25,1011.2 1151.25,984.1 L1151.75,971.0 1151.75,1009.7 L1152.25,1006.2 1152.25,976.1 L1152.75,980.3 1152.75,1011.1 L1153.25,1000.9 1153.25,981.4 L1153.75,967.9 1153.75,1002.3 L1154.25,1019.2 1154.25,972.0 L1154.75,978.9 1154.75,1007.1 L1155.25,1006.0 1155.25,977.9 L1155.75,973.9 1155.75,1009.6 L1156.25,1032.5 1156.25,971.5 L1156.75,976.8 1156.75,1006.6 L1157.25,1000.8 1157.25,978.4 L1157.75,977.6 1157.75,1005.2 L1158.25,1003.0 1158.25,977.6 L1158.75,978.0 1158.75,1009.9 L1159.25,1015.5 1159.25,978.2 L1159.75,982.3 1159.75,1002.0 L1160.25,1012.5 1160.25,980.3 L1160.75,981.1 1160.75,1014.3 L1161.25,1010.5 1161.25,986.8 L1161.75,992.5 1161.75,1025.5 L1162.25,1015.8 1162.25,983.3 L1162.75,979.3 1162.75,1013.8 L1163.25,1013.6 1163.25,987.5 L1163.75,988.7 1163.75,1022.9 L1164.25,1008.9 1164.25,979.2 L1164.75,983.3 1164.75,1018.2 L1165.25,1011.0 1165.25,979.8 L1165.75,983.7 1165.75,1020.5 L1166.25,1006.1 1166.25,978.4 L1166.75,986.5 1166.75,1008.9 L1167.25,1012.6 1167.25,980.4 L1167.75,987.6 1167.75,1015.5 L1168.25,1016.8 1168.25,989.9 L1168.75,982.5 1168.75,1004.3 L1169.25,1024.3 1169.25,960.4 L1169.75,970.8 1169.75,1009.0 L1170.25,1020.5 1170.25,987.1 L1170.75,971.2 1170.75,1012.7 L1171.25,1017.9 1171.25,981.4 L1171.75,979.5 1171.75,1012.4 L1172.25,1009.3 1172.25,974.7 L1172.75,976.1 1172.75,1010.8 L1173.25,1021.8 1173.25,982.8 L1173.75,980.9 1173.75,1007.7 L1174.25,1013.2 1174.25,984.0 L1174.75,977.6 1174.75,1018.0 L1175.25,1016.8 1175.25,982.3 L1175.75,987.7 1175.75,1011.9 L1176.25,1007.9 1176.25,975.9 L1176.75,982.6 1176.75,1011.1 L1177.25,1013.9 1177.25,972.0 L1177.75,974.5 1177.75,1020.3 L1178.25,1017.7 1178.25,928.4 L1178.75,981.3 1178.75,1009.4 L1179.25,1017.9 1179.25,981.7 L1179.75,971.2 1179.75,1008.7 L1180.25,1010.7 1180.25,985.4 L1180.75,975.2 1180.75,1004.4 L1181.25,1012.3 1181.25,964.2 L1181.75,988.0 1181.75,1017.4 L1182.25,1007.2 1182.25,990.3 L1182.75,986.2 1182.75,1014.2 L1183.25,1022.4 1183.25,987.4 L1183.75,981.0 1183.75,1019.1 L1184.25,1017.0 1184.25,980.6 L1184.75,982.9 1184.75,1004.1 L1185.25,1017.6 1185.25,910.2 L1185.75,988.1 1185.75,1015.2 L1186.25,1016.9 1186.25,980.2 L1186.75,968.1 1186.75,1009.4 L1187.25,1018.1 1187.25,967.6 L1187.75,985.6 1187.75,1026.6 L1188.25,1022.6 1188.25,988.6 L1188.75,978.8 1188.75,1011.4 L1189.25,1013.9 1189.25,983.8 L1189.75,983.6 1189.75,1019.3 L1190.25,1011.5 1190.25,990.7 L1190.75,977.4 1190.75,1016.9 L1191.25,1018.5 1191.25,984.3 L1191.75,988.4 1191.75,1021.2 L1192.25,1025.1 1192.25,988.8 L1192.75,977.1 1192.75,1014.1 L1193.25,1017.9 1193.25,993.0 L1193.75,991.8 1193.75,1012.1 L1194.25,1013.1 1194.25,983.7 L1194.75,991.1 1194.75,1025.8 L1195.25,1023.7 1195.25,987.8 L1195.75,989.2 1195.75,1025.9 L1196.25,1014.4 1196.25,980.2 L1196.75,978.8 1196.75,1009.2 L1197.25,1017.2 1197.25,982.8 L1197.75,989.0 1197.75,1011.2 L1198.25,1020.5 1198.25,991.4 L1198.75,987.5 1198.75,1023.2 L1199.25,1023.5 1199.25,980.8 L1199.75,991.5 1199.75,1016.6 L1200.25,1004.7 1200.25,983.2 L1200.75,986.0 1200.75,1020.9 L1201.25,1016.3 1201.25,983.7 L1201.75,985.2 1201.75,1014.6 L1202.25,1021.8 1202.25,974.6 L1202.75,982.2 1202.75,1026.5 L1203.25,1020.4 1203.25,984.9 L1203.75,988.1 1203.75,1030.8 L1204.25,1023.6 1204.25,995.3 L1204.75,985.3 1204.75,1029.5 L1205.25,1012.1 1205.25,984.4 L1205.75,991.6 1205.75,1017.8 L1206.25,1011.4 1206.25,989.9 L1206.75,985.2 1206.75,1017.7 L1207.25,1019.8 1207.25,990.0 L1207.75,983.3 1207.75,1008.1 L1208.25,1020.7 1208.25,986.6 L1208.75,971.9 1208.75,1014.5 L1209.25,1022.3 1209.25,986.4 L1209.75,940.0 1209.75,1015.3 L1210.25,1017.5 1210.25,986.8 L1210.75,985.6 1210.75,1024.1 L1211.25,1008.0 1211.25,973.7 L1211.75,983.1 1211.75,1013.8 L1212.25,1012.6 1212.25,979.2 L1212.75,987.1 1212.75,1025.3 L1213.25,1022.7 1213.25,982.8 L1213.75,982.7 1213.75,1013.1 L1214.25,1012.7 1214.25,984.7 L1214.75,976.5 1214.75,1015.1 L1215.25,1013.8 1215.25,988.7 L1215.75,977.1 1215.75,1031.1 L1216.25,1014.5 1216.25,980.1 L1216.75,980.1 1216.75,1019.0 L1217.25,1010.8 1217.25,978.4 L1217.75,989.6 1217.75,1014.1 L1218.25,1023.7 1218.25,988.3 L1218.75,983.4 1218.75,1013.3 L1219.25,1024.8 1219.25,970.9 L1219.75,979.5 1219.75,1012.8 L1220.25,1011.3 1220.25,990.2 L1220.75,987.6 1220.75,1018.3 L1221.25,1013.5 1221.25,979.3 L1221.75,981.5 1221.75,1007.2 L1222.25,1012.9 1222.25,978.5 L1222.75,980.1 1222.75,1020.8 L1223.25,1021.2 1223.25,984.9 L1223.75,982.9 1223.75,1016.4 L1224.25,1013.1 1224.25,980.8 L1224.75,979.4 1224.75,1014.8 L1225.25,1011.1 1225.25,988.6 L1225.75,975.9 1225.75,1006.7 L1226.25,1021.9 1226.25,988.2 L1226.75,981.9 1226.75,1027.7 L1227.25,1018.3 1227.25,992.0 L1227.75,985.0 1227.75,1018.4 L1228.25,1023.7 1228.25,990.0 L1228.75,980.9 1228.75,1044.4 L1229.25,1016.1 1229.25,996.2 L1229.75,994.0 1229.75,1019.7 L1230.25,1026.0 1230.25,997.2 L1230.75,991.8 1230.75,1028.0 L1231.25,1031.1 1231.25,995.4 L1231.75,997.7 1231.75,1026.7 L1232.25,1029.8 1232.25,999.0 L1232.75,993.0 1232.75,1025.2 L1233.25,1027.5 1233.25,992.8 L1233.75,992.8 1233.75,1023.6 L1234.25,1027.1 1234.25,992.6 L1234.75,986.2 1234.75,1026.1 L1235.25,1025.7 1235.25,984.0 L1235.75,995.0 1235.75,1037.3 L1236.25,1028.7 1236.25,999.2 L1236.75,991.0 1236.75,1021.4 L1237.25,1015.9 1237.25,990.9 L1237.75,998.3 1237.75,1019.9 L1238.25,1032.3 1238.25,987.3 L1238.75,987.2 1238.75,1016.2 L1239.25,1015.3 1239.25,992.1 L1239.75,980.2 1239.75,1026.0 L1240.25,1014.5 1240.25,975.8 L1240.75,990.5 1240.75,1018.1 L1241.25,1024.6 1241.25,989.6 L1241.75,987.1 1241.75,1012.7 L1242.25,1019.2 1242.25,989.4 L1242.75,994.4 1242.75,1019.3 L1243.25,1020.9 1243.25,988.3 L1243.75,986.5 1243.75,1017.1 L1244.25,1010.1 1244.25,984.3 L1244.75,994.7 1244.75,1023.7 L1245.25,1019.4 1245.25,991.7 L1245.75,988.0 1245.75,1012.5 L1246.25,1021.5 1246.25,982.8 L1246.75,996.2 1246.75,1022.1 L1247.25,1014.0 1247.25,997.0 L1247.75,990.3 1247.75,1019.4 L1248.25,1021.3 1248.25,989.1 L1248.75,988.8 1248.75,1027.0 L1249.25,1012.4 1249.25,985.2 L1249.75,987.4 1249.75,1026.8 L1250.25,1023.0 1250.25,995.0 L1250.75,992.0 1250.75,1021.5 L1251.25,1011.3 1251.25,986.5 L1251.75,992.3 1251.75,1016.6 L1252.25,1017.5 1252.25,991.7 L1252.75,976.5 1252.75,1017.4 L1253.25,1022.6 1253.25,985.9 L1253.75,992.1 1253.75,1015.1 L1254.25,1019.2 1254.25,983.0 L1254.75,982.1 1254.75,1019.1 L1255.25,1016.1 1255.25,986.8 L1255.75,987.6 1255.75,1020.3 L1256.25,1010.4 1256.25,990.5 L1256.75,987.0 1256.75,1011.7 L1257.25,1008.8 1257.25,978.8 L1257.75,979.8 1257.75,1022.8 L1258.25,1012.2 1258.25,971.3 L1258.75,982.5 1258.75,1017.9 L1259.25,1005.4 1259.25,983.4 L1259.75,985.1 1259.75,1009.4 L1260.25,1010.4 1260.25,977.0 L1260.75,983.2 1260.75,1008.6 L1261.25,1014.2 1261.25,986.6 L1261.75,982.0 1261.75,1012.3 L1262.25,1025.3 1262.25,973.4 L1262.75,984.2 1262.75,1016.9 L1263.25,1019.1 1263.25,982.2 L1263.75,985.8 1263.75,1023.2 L1264.25,1025.1 1264.25,983.8 L1264.75,987.6 1264.75,1026.9 L1265.25,1014.6 1265.25,990.4 L1265.75,990.5 1265.75,1026.9 L1266.25,1021.6 1266.25,985.8 L1266.75,990.4 1266.75,1017.2 L1267.25,1024.0 1267.25,990.2 L1267.75,995.1 1267.75,1017.3 L1268.25,1018.2 1268.25,988.7 L1268.75,992.8 1268.75,1025.4 L1269.25,1028.4 1269.25,993.1 L1269.75,991.1 1269.75,1023.3 L1270.25,1020.0 1270.25,989.0 L1270.75,992.8 1270.75,1019.8 L1271.25,1022.7 1271.25,989.5 L1271.75,1000.0 1271.75,1020.6 L1272.25,1024.3 1272.25,1002.4 L1272.75,987.6 1272.75,1038.1 L1273.25,1028.0 1273.25,996.0 L1273.75,996.9 1273.75,1031.4 L1274.25,1019.5 1274.25,990.6 L1274.75,993.8 1274.75,1030.6 L1275.25,1018.8 1275.25,991.9 L1275.75,1004.1 1275.75,1034.2 L1276.25,1022.4 1276.25,993.4 L1276.75,998.5 1276.75,1020.3 L1277.25,1020.8 1277.25,990.8 L1277.75,995.9 1277.75,1024.1 L1278.25,1016.2 1278.25,987.0 L1278.75,996.5 1278.75,1021.0 L1279.25,1018.1 1279.25,993.6 L1279.75,984.1 1279.75,1026.9 L1280.25,1019.3 1280.25,987.2 L1280.75,984.7 1280.75,1025.7 L1281.25,1021.3 1281.25,988.3 L1281.75,987.1 1281.75,1013.3 L1282.25,1022.5 1282.25,991.5 L1282.75,969.1 1282.75,1020.9 L1283.25,1031.0 1283.25,984.2 L1283.75,992.8 1283.75,1022.2 L1284.25,1024.1 1284.25,989.6 L1284.75,978.5 1284.75,1019.3 L1285.25,1016.6 1285.25,992.8 L1285.75,993.3 1285.75,1017.9 L1286.25,1008.8 1286.25,985.9 L1286.75,983.4 1286.75,1018.5 L1287.25,1016.2 1287.25,986.6 L1287.75,989.3 1287.75,1019.5 L1288.25,1020.8 1288.25,995.7 L1288.75,989.0 1288.75,1018.7 L1289.25,1028.8 1289.25,984.7 L1289.75,952.0 1289.75,1017.4 L1290.25,1012.3 1290.25,979.6 L1290.75,992.2 1290.75,1019.4 L1291.25,1031.3 1291.25,995.5 L1291.75,989.6 1291.75,1021.8 L1292.25,1017.7 1292.25,988.0 L1292.75,989.3 1292.75,1015.6 L1293.25,1027.7 1293.25,992.2 L1293.75,984.0 1293.75,1023.4 L1294.25,1028.2 1294.25,985.6 L1294.75,993.1 1294.75,1020.7 L1295.25,1025.3 1295.25,981.2 L1295.75,990.4 1295.75,1014.4 L1296.25,1018.1 1296.25,990.4 L1296.75,982.0 1296.75,1008.4 L1297.25,1023.5 1297.25,985.8 L1297.75,972.7 1297.75,1025.4 L1298.25,1031.3 1298.25,995.0 L1298.75,979.2 1298.75,1022.9 L1299.25,1016.6 1299.25,992.6 L1299.75,988.6 1299.75,1018.6 L1300.25,1022.2 1300.25,993.7 L1300.75,990.8 1300.75,1020.1 L1301.25,1018.5 1301.25,982.4 L1301.75,985.1 1301.75,1023.7 L1302.25,1022.6 1302.25,988.0 L1302.75,989.2 1302.75,1022.3 L1303.25,1026.5 1303.25,992.2 L1303.75,977.9 1303.75,1012.9 L1304.25,1016.3 1304.25,988.2 L1304.75,975.0 1304.75,1012.5 L1305.25,1018.8 1305.25,978.9 L1305.75,990.7 1305.75,1031.0 L1306.25,1038.7 1306.25,982.2 L1306.75,983.4 1306.75,1017.6 L1307.25,1017.4 1307.25,986.0 L1307.75,989.4 1307.75,1011.0 L1308.25,1020.2 1308.25,979.2 L1308.75,975.1 1308.75,1016.7 L1309.25,1017.6 1309.25,986.1 L1309.75,986.8 1309.75,1009.8 L1310.25,1019.4 1310.25,983.7 L1310.75,990.2 1310.75,1009.1 L1311.25,1028.8 1311.25,983.4 L1311.75,925.9 1311.75,1020.0 L1312.25,1025.4 1312.25,991.8 L1312.75,986.7 1312.75,1035.9 L1313.25,1031.6 1313.25,1001.4 L1313.75,988.3 1313.75,1025.5 L1314.25,1036.5 1314.25,993.7 L1314.75,989.5 1314.75,1026.8 L1315.25,1027.9 1315.25,1000.5 L1315.75,996.6 1315.75,1027.8 L1316.25,1024.1 1316.25,1006.3 L1316.75,998.8 1316.75,1026.4 L1317.25,1029.3 1317.25,999.3 L1317.75,1004.8 1317.75,1028.1 L1318.25,1029.0 1318.25,986.2 L1318.75,1004.5 1318.75,1030.0 L1319.25,1030.3 1319.25,1000.7 L1319.75,992.4 1319.75,1025.0 L1320.25,1030.3 1320.25,984.1 L1320.75,988.8 1320.75,1013.5 L1321.25,1012.5 1321.25,988.6 L1321.75,982.6 1321.75,1016.7 L1322.25,1018.6 1322.25,989.0 L1322.75,986.6 1322.75,1017.0 L1323.25,1018.5 1323.25,979.4 L1323.75,976.6 1323.75,1011.0 L1324.25,1012.2 1324.25,990.9 L1324.75,973.6 1324.75,1025.6 L1325.25,1010.5 1325.25,966.1 L1325.75,983.8 1325.75,1007.8 L1326.25,1004.8 1326.25,981.0 L1326.75,981.5 1326.75,1016.5 L1327.25,1014.8 1327.25,971.0 L1327.75,987.3 1327.75,1023.6 L1328.25,1019.4 1328.25,970.8 L1328.75,983.1 1328.75,1009.5 L1329.25,1015.4 1329.25,982.6 L1329.75,986.4 1329.75,1008.3 L1330.25,1011.7 1330.25,983.6 L1330.75,914.0 1330.75,1021.3 L1331.25,1014.7 1331.25,978.6 L1331.75,980.7 1331.75,1019.7 L1332.25,1022.5 1332.25,983.5 L1332.75,991.4 1332.75,1026.7 L1333.25,1022.4 1333.25,996.5 L1333.75,989.7 1333.75,1023.8 L1334.25,1035.9 1334.25,989.8 L1334.75,991.8 1334.75,1040.5 L1335.25,1016.7 1335.25,980.9 L1335.75,989.5 1335.75,1036.6 L1336.25,1034.6 1336.25,988.9 L1336.75,999.7 1336.75,1020.1 L1337.25,1029.2 1337.25,987.1 L1337.75,992.5 1337.75,1037.2 L1338.25,1018.4 1338.25,993.2 L1338.75,993.7 1338.75,1017.4 L1339.25,1031.8 1339.25,1001.9 L1339.75,998.7 1339.75,1023.2 L1340.25,1020.6 1340.25,991.3 L1340.75,977.7 1340.75,1030.4 L1341.25,1020.2 1341.25,997.3 L1341.75,990.5 1341.75,1025.8 L1342.25,1014.9 1342.25,988.9 L1342.75,979.7 1342.75,1012.7 L1343.25,1019.2 1343.25,984.6 L1343.75,976.1 1343.75,1017.6 L1344.25,1015.3 1344.25,988.8 L1344.75,991.2 1344.75,1014.4 L1345.25,1021.8 1345.25,979.4 L1345.75,989.0 1345.75,1009.8 L1346.25,1023.8 1346.25,984.2 L1346.75,1000.7 1346.75,1020.3 L1347.25,1018.3 1347.25,982.3 L1347.75,991.3 1347.75,1011.0 L1348.25,1015.3 1348.25,987.7 L1348.75,986.8 1348.75,1029.5 L1349.25,1029.0 1349.25,992.9 L1349.75,994.2 1349.75,1023.2 L1350.25,1012.7 1350.25,976.8 L1350.75,996.0 1350.75,1022.6 L1351.25,1023.5 1351.25,996.6 L1351.75,990.2 1351.75,1022.5 L1352.25,1022.1 1352.25,989.5 L1352.75,993.5 1352.75,1029.1 L1353.25,1032.5 1353.25,994.0 L1353.75,988.0 1353.75,1029.8 L1354.25,1024.1 1354.25,990.9 L1354.75,989.2 1354.75,1020.9 L1355.25,1031.2 1355.25,995.0 L1355.75,990.0 1355.75,1026.9 L1356.25,1017.2 1356.25,997.6 L1356.75,996.3 1356.75,1022.0 L1357.25,1025.9 1357.25,987.0 L1357.75,995.4 1357.75,1020.7 L1358.25,1019.4 1358.25,992.7 L1358.75,979.8 1358.75,1021.5 L1359.25,1021.7 1359.25,994.8 L1359.75,990.9 1359.75,1023.3 L1360.25,1031.7 1360.25,987.0 L1360.75,974.4 1360.75,1014.1 L1361.25,1020.6 1361.25,988.5 L1361.75,988.5 1361.75,1026.6 L1362.25,1027.3 1362.25,983.6 L1362.75,989.9 1362.75,1017.6 L1363.25,1023.4 1363.25,993.6 L1363.75,979.6 1363.75,1017.8 L1364.25,1013.8 1364.25,979.8 L1364.75,972.9 1364.75,1017.4 L1365.25,1019.6 1365.25,984.0 L1365.75,979.4 1365.75,1018.4 L1366.25,1017.5 1366.25,987.2 L1366.75,985.6 1366.75,1015.6 L1367.25,1010.8 1367.25,991.3 L1367.75,991.0 1367.75,1022.9 L1368.25,1018.2 1368.25,989.5 L1368.75,987.8 1368.75,1013.2 L1369.25,1018.1 1369.25,996.0 L1369.75,984.3 1369.75,1027.4 L1370.25,1023.0 1370.25,990.5 L1370.75,989.6 1370.75,1028.5 L1371.25,1014.9 1371.25,974.6 L1371.75,995.4 1371.75,1028.3 L1372.25,1021.2 1372.25,1000.0 L1372.75,986.3 1372.75,1027.9 L1373.25,1019.4 1373.25,991.7 L1373.75,986.8 1373.75,1028.6 L1374.25,1022.5 1374.25,993.8 L1374.75,992.7 1374.75,1027.5 L1375.25,1020.6 1375.25,989.3 L1375.75,996.2 1375.75,1023.7 L1376.25,1024.6 1376.25,977.5 L1376.75,998.8 1376.75,1035.2 L1377.25,1025.9 1377.25,999.0 L1377.75,988.3 1377.75,1024.8 L1378.25,1017.0 1378.25,992.9 L1378.75,993.0 1378.75,1021.7 L1379.25,1020.2 1379.25,993.0 L1379.75,988.1 1379.75,1028.2 L1380.25,1024.0 1380.25,987.9 L1380.75,993.2 1380.75,1038.7 L1381.25,1019.3 1381.25,997.7 L1381.75,988.7 1381.75,1029.2 L1382.25,1027.9 1382.25,989.5 L1382.75,983.1 1382.75,1033.2 L1383.25,1018.3 1383.25,990.9 L1383.75,999.8 1383.75,1032.2 L1384.25,1023.5 1384.25,989.1 L1384.75,993.5 1384.75,1016.6 L1385.25,1028.6 1385.25,992.0 L1385.75,990.5 1385.75,1016.7 L1386.25,1030.7 1386.25,984.4 L1386.75,994.1 1386.75,1022.6 L1387.25,1032.8 1387.25,987.6 L1387.75,993.1 1387.75,1019.3 L1388.25,1040.6 1388.25,995.7 L1388.75,989.4 1388.75,1022.6 L1389.25,1030.5 1389.25,995.4 L1389.75,998.6 1389.75,1034.0 L1390.25,1015.8 1390.25,990.3 L1390.75,991.8 1390.75,1032.2 L1391.25,1016.7 1391.25,990.3 L1391.75,991.0 1391.75,1018.7 L1392.25,1019.8 1392.25,988.6 L1392.75,989.8 1392.75,1020.0 L1393.25,1018.3 1393.25,992.1 L1393.75,997.4 1393.75,1025.0 L1394.25,1028.9 1394.25,992.9 L1394.75,990.3 1394.75,1021.3 L1395.25,1023.4 1395.25,990.6 L1395.75,987.0 1395.75,1016.9 L1396.25,1021.5 1396.25,999.6 L1396.75,994.6 1396.75,1027.1 L1397.25,1031.7 1397.25,988.9 L1397.75,989.4 1397.75,1026.8 L1398.25,1024.7 1398.25,993.9 L1398.75,996.9 1398.75,1023.5 L1399.25,1023.7 1399.25,995.1 L1399.75,996.4 1399.75,1019.4 L1400.25,1028.8 1400.25,997.9 L1400.75,995.6 1400.75,1024.1 L1401.25,1024.2 1401.25,1002.6 L1401.75,996.3 1401.75,1025.4 L1402.25,1028.6 1402.25,984.5 L1402.75,994.3 1402.75,1042.0 L1403.25,1038.4 1403.25,988.4 L1403.75,992.9 1403.75,1032.3 L1404.25,1039.6 1404.25,1002.2 L1404.75,1005.5 1404.75,1024.6 L1405.25,1026.0 1405.25,997.7 L1405.75,987.5 1405.75,1032.4 L1406.25,1022.2 1406.25,998.4 L1406.75,997.6 1406.75,1034.9 L1407.25,1025.1 1407.25,994.7 L1407.75,984.3 1407.75,1026.5 L1408.25,1019.8 1408.25,993.5 L1408.75,996.9 1408.75,1026.1 L1409.25,1018.1 1409.25,996.9 L1409.75,992.6 1409.75,1023.2 L1410.25,1024.4 1410.25,985.7 L1410.75,993.9 1410.75,1024.0 L1411.25,1017.9 1411.25,992.4 L1411.75,957.4 1411.75,1023.6 L1412.25,1023.9 1412.25,989.7 L1412.75,995.7 1412.75,1014.0 L1413.25,1023.9 1413.25,991.8 L1413.75,993.4 1413.75,1017.1 L1414.25,1019.0 1414.25,986.9 L1414.75,994.8 1414.75,1017.3 L1415.25,1011.8 1415.25,990.5 L1415.75,994.1 1415.75,1025.3 L1416.25,1026.2 1416.25,995.4 L1416.75,983.8 1416.75,1031.4 L1417.25,1023.2 1417.25,1000.0 L1417.75,983.5 1417.75,1033.6 L1418.25,1018.6 1418.25,986.8 L1418.75,996.1 1418.75,1027.9 L1419.25,1020.1 1419.25,995.1 L1419.75,999.7 1419.75,1018.1 L1420.25,1055.2 1420.25,999.8 L1420.75,1000.0 1420.75,1031.3 L1421.25,1033.0 1421.25,987.8 L1421.75,998.1 1421.75,1025.4 L1422.25,1030.0 1422.25,1004.3 L1422.75,996.9 1422.75,1025.5 L1423.25,1033.6 1423.25,999.5 L1423.75,993.0 1423.75,1025.1 L1424.25,1023.5 1424.25,1004.3 L1424.75,988.6 1424.75,1035.1 L1425.25,1025.2 1425.25,990.2 L1425.75,986.4 1425.75,1027.2 L1426.25,1023.8 1426.25,986.4 L1426.75,1000.3 1426.75,1036.3 L1427.25,1031.5 1427.25,1000.8 L1427.75,992.5 1427.75,1024.1 L1428.25,1027.8 1428.25,991.4 L1428.75,1000.0 1428.75,1035.3 L1429.25,1026.5 1429.25,996.7 L1429.75,986.0 1429.75,1019.9 L1430.25,1019.9 1430.25,992.0 L1430.75,993.6 1430.75,1022.5 L1431.25,1027.0 1431.25,989.0 L1431.75,999.6 1431.75,1024.2 L1432.25,1019.1 1432.25,991.3 L1432.75,986.0 1432.75,1021.9 L1433.25,1015.4 1433.25,996.4 L1433.75,984.6 1433.75,1023.3 L1434.25,1021.4 1434.25,990.0 L1434.75,995.1 1434.75,1013.9 L1435.25,1020.3 1435.25,996.2 L1435.75,998.1 1435.75,1027.5 L1436.25,1024.6 1436.25,1001.2 L1436.75,993.2 1436.75,1029.9 L1437.25,1029.0 1437.25,987.5 L1437.75,999.7 1437.75,1020.4 L1438.25,1026.2 1438.25,989.5 L1438.75,994.2 1438.75,1024.6 L1439.25,1028.5 1439.25,1007.0 L1439.75,993.5 1439.75,1021.4 L1440.25,1025.5 1440.25,999.2 L1440.75,999.3 1440.75,1033.0 L1441.25,1026.7 1441.25,975.5 L1441.75,999.2 1441.75,1026.7 L1442.25,1031.7 1442.25,997.4 L1442.75,1006.1 1442.75,1038.7 L1443.25,1025.4 1443.25,997.4 L1443.75,1001.4 1443.75,1029.9 L1444.25,1035.6 1444.25,999.5 L1444.75,993.3 1444.75,1025.8 L1445.25,1026.2 1445.25,992.6 L1445.75,994.4 1445.75,1026.7 L1446.25,1028.9 1446.25,1000.4 L1446.75,1004.5 1446.75,1032.7 L1447.25,1033.4 1447.25,990.3 L1447.75,1002.5 1447.75,1026.0 L1448.25,1030.9 1448.25,1000.7 L1448.75,993.0 1448.75,1031.7 L1449.25,1019.9 1449.25,1006.5 L1449.75,998.8 1449.75,1031.0 L1450.25,1023.0 1450.25,995.7 L1450.75,990.6 1450.75,1025.7 L1451.25,1026.6 1451.25,994.3 L1451.75,1001.1 1451.75,1021.7 L1452.25,1023.4 1452.25,992.7 L1452.75,996.4 1452.75,1023.4 L1453.25,1021.5 1453.25,993.2 L1453.75,989.6 1453.75,1026.0 L1454.25,1039.8 1454.25,998.3 L1454.75,995.0 1454.75,1027.5 L1455.25,1024.4 1455.25,997.4 L1455.75,996.9 1455.75,1031.8 L1456.25,1028.5 1456.25,983.4 L1456.75,983.3 1456.75,1026.1 L1457.25,1026.4 1457.25,993.2 L1457.75,992.2 1457.75,1021.2 L1458.25,1023.3 1458.25,991.2 L1458.75,996.4 1458.75,1020.1 L1459.25,1020.0 1459.25,989.3 L1459.75,988.3 1459.75,1018.9 L1460.25,1021.0 1460.25,998.6 L1460.75,994.0 1460.75,1024.4 L1461.25,1035.0 1461.25,999.8 L1461.75,997.6 1461.75,1028.5 L1462.25,1034.1 1462.25,999.2 L1462.75,1001.6 1462.75,1020.1 L1463.25,1027.5 1463.25,1000.7 L1463.75,996.0 1463.75,1029.0 L1464.25,1033.4 1464.25,993.8 L1464.75,986.1 1464.75,1025.5 L1465.25,1024.1 1465.25,996.1 L1465.75,1003.9 1465.75,1028.0 L1466.25,1036.9 1466.25,1002.9 L1466.75,1000.0 1466.75,1030.0 L1467.25,1020.2 1467.25,994.2 L1467.75,1001.8 1467.75,1034.8 L1468.25,1035.9 1468.25,991.7 L1468.75,998.5 1468.75,1029.4 L1469.25,1026.8 1469.25,999.9 L1469.75,995.5 1469.75,1019.2 L1470.25,1024.3 1470.25,1000.0 L1470.75,990.0 1470.75,1034.1 L1471.25,1030.5 1471.25,1000.6 L1471.75,993.7 1471.75,1028.4 L1472.25,1040.8 1472.25,1009.7 L1472.75,999.4 1472.75,1031.3 L1473.25,1025.4 1473.25,999.4 L1473.75,993.3 1473.75,1032.8 L1474.25,1025.6 1474.25,987.2 L1474.75,996.0 1474.75,1031.5 L1475.25,1029.0 1475.25,995.1 L1475.75,999.0 1475.75,1025.8 L1476.25,1024.7 1476.25,998.4 L1476.75,995.4 1476.75,1019.7 L1477.25,1028.0 1477.25,974.4 L1477.75,996.5 1477.75,1019.1 L1478.25,1020.9 1478.25,992.2 L1478.75,996.7 1478.75,1015.2 L1479.25,1025.2 1479.25,988.6 L1479.75,1003.1 1479.75,1025.8 L1480.25,1026.4 1480.25,976.0 L1480.75,990.5 1480.75,1023.6 L1481.25,1025.6 1481.25,985.0 L1481.75,994.8 1481.75,1028.2 L1482.25,1025.6 1482.25,973.2 L1482.75,991.8 1482.75,1021.9 L1483.25,1030.1 1483.25,987.9 L1483.75,997.2 1483.75,1021.7 L1484.25,1024.4 1484.25,994.2 L1484.75,991.8 1484.75,1022.8 L1485.25,1024.0 1485.25,990.8 L1485.75,992.2 1485.75,1031.0 L1486.25,1022.6 1486.25,992.7 L1486.75,1000.5 1486.75,1023.7 L1487.25,1025.7 1487.25,1002.2 L1487.75,998.0 1487.75,1031.0 L1488.25,1035.6 1488.25,989.5 L1488.75,999.8 1488.75,1030.8 L1489.25,1023.5 1489.25,999.9 L1489.75,995.5 1489.75,1022.8 L1490.25,1023.6 1490.25,1002.0 L1490.75,995.7 1490.75,1031.9 L1491.25,1029.6 1491.25,1000.9 L1491.75,992.0 1491.75,1022.8 L1492.25,1031.1 1492.25,998.2 L1492.75,1002.1 1492.75,1023.6 L1493.25,1030.4 1493.25,997.7 L1493.75,994.4 1493.75,1020.6 L1494.25,1023.2 1494.25,996.0 L1494.75,988.9 1494.75,1033.4 L1495.25,1019.5 1495.25,991.6 L1495.75,999.3 1495.75,1032.0 L1496.25,1028.9 1496.25,994.3 L1496.75,991.5 1496.75,1029.3 L1497.25,1029.1 1497.25,988.8 L1497.75,979.1 1497.75,1011.4 L1498.25,1021.7 1498.25,994.8 L1498.75,993.9 1498.75,1011.5 L1499.25,1019.6 1499.25,989.6 L1499.75,973.6 1499.75,1026.7 L1500.25,1020.1 1500.25,984.1 L1500.75,992.3 1500.75,1023.9 L1501.25,1020.3 1501.25,982.8 L1501.75,987.2 1501.75,1016.5 L1502.25,1024.0 1502.25,998.1 L1502.75,979.7 1502.75,1018.3 L1503.25,1029.7 1503.25,977.5 L1503.75,991.5 1503.75,1015.8 L1504.25,1019.4 1504.25,992.1 L1504.75,988.3 1504.75,1019.5 L1505.25,1020.1 1505.25,988.6 L1505.75,1001.9 1505.75,1022.0 L1506.25,1026.8 1506.25,995.9 L1506.75,987.8 1506.75,1036.0 L1507.25,1029.0 1507.25,991.3 L1507.75,987.4 1507.75,1028.6 L1508.25,1034.2 1508.25,991.1 L1508.75,998.2 1508.75,1036.1 L1509.25,1026.7 1509.25,996.5 L1509.75,998.2 1509.75,1036.3 L1510.25,1032.6 1510.25,1002.5 L1510.75,999.2 1510.75,1032.4 L1511.25,1030.1 1511.25,995.6 L1511.75,998.3 1511.75,1029.2 L1512.25,1032.1 1512.25,998.5 L1512.75,1008.4 1512.75,1041.9 L1513.25,1029.7 1513.25,993.7 L1513.75,996.5 1513.75,1021.4 L1514.25,1024.8 1514.25,992.6 L1514.75,988.9 1514.75,1038.1 L1515.25,1023.2 1515.25,995.5 L1515.75,987.5 1515.75,1019.9 L1516.25,1031.5 1516.25,994.8 L1516.75,996.5 1516.75,1019.3 L1517.25,1014.8 1517.25,993.5 L1517.75,995.6 1517.75,1017.5 L1518.25,1027.0 1518.25,986.6 L1518.75,991.6 1518.75,1030.0 L1519.25,1018.0 1519.25,987.4 L1519.75,983.1 1519.75,1033.1 L1520.25,1021.6 1520.25,993.6 L1520.75,993.0 1520.75,1024.7 L1521.25,1009.1 1521.25,992.3 L1521.75,993.5 1521.75,1020.0 L1522.25,1030.9 1522.25,990.4 L1522.75,995.6 1522.75,1017.4 L1523.25,1010.4 1523.25,983.5 L1523.75,986.5 1523.75,1016.4 L1524.25,1010.1 1524.25,990.7 L1524.75,986.8 1524.75,986.8" fill="none" stroke="#10a5f0" stroke-width="1.4" stroke-linejoin="miter"/>
<path d="M1288.90,895.40h3.8v3.8h-3.8zM1288.90,1061.10h3.8v3.8h-3.8zM1297.57,895.40h3.8v3.8h-3.8zM1297.57,1061.10h3.8v3.8h-3.8zM1306.23,895.40h3.8v3.8h-3.8zM1306.23,1061.10h3.8v3.8h-3.8zM1314.90,895.40h3.8v3.8h-3.8zM1314.90,1061.10h3.8v3.8h-3.8zM1323.57,895.40h3.8v3.8h-3.8zM1323.57,1061.10h3.8v3.8h-3.8zM1332.23,895.40h3.8v3.8h-3.8zM1332.23,1061.10h3.8v3.8h-3.8zM1340.90,895.40h3.8v3.8h-3.8zM1340.90,1061.10h3.8v3.8h-3.8zM1288.90,904.12h3.8v3.8h-3.8zM1340.90,904.12h3.8v3.8h-3.8zM1288.90,912.84h3.8v3.8h-3.8zM1340.90,912.84h3.8v3.8h-3.8zM1288.90,921.56h3.8v3.8h-3.8zM1340.90,921.56h3.8v3.8h-3.8zM1288.90,930.28h3.8v3.8h-3.8zM1340.90,930.28h3.8v3.8h-3.8zM1288.90,939.01h3.8v3.8h-3.8zM1340.90,939.01h3.8v3.8h-3.8zM1288.90,947.73h3.8v3.8h-3.8zM1340.90,947.73h3.8v3.8h-3.8zM1288.90,956.45h3.8v3.8h-3.8zM1340.90,956.45h3.8v3.8h-3.8zM1288.90,965.17h3.8v3.8h-3.8zM1340.90,965.17h3.8v3.8h-3.8zM1288.90,973.89h3.8v3.8h-3.8zM1340.90,973.89h3.8v3.8h-3.8zM1288.90,982.61h3.8v3.8h-3.8zM1340.90,982.61h3.8v3.8h-3.8zM1288.90,991.33h3.8v3.8h-3.8zM1340.90,991.33h3.8v3.8h-3.8zM1288.90,1000.05h3.8v3.8h-3.8zM1340.90,1000.05h3.8v3.8h-3.8zM1288.90,1008.77h3.8v3.8h-3.8zM1340.90,1008.77h3.8v3.8h-3.8zM1288.90,1017.49h3.8v3.8h-3.8zM1340.90,1017.49h3.8v3.8h-3.8zM1288.90,1026.22h3.8v3.8h-3.8zM1340.90,1026.22h3.8v3.8h-3.8zM1288.90,1034.94h3.8v3.8h-3.8zM1340.90,1034.94h3.8v3.8h-3.8zM1288.90,1043.66h3.8v3.8h-3.8zM1340.90,1043.66h3.8v3.8h-3.8zM1288.90,1052.38h3.8v3.8h-3.8zM1340.90,1052.38h3.8v3.8h-3.8z" fill="#000"/>
<path d="M1081.6,829.4L1290.8,896M1520.8,835.3L1342.8,896" stroke="#000" stroke-width="2.6" fill="none"/>
<polyline points="1080.0,790.1 1080.8,786.8 1081.6,798.5 1082.4,802.4 1083.2,790.4 1083.9,790.1 1084.7,794.2 1085.5,774.1 1086.3,767.1 1087.1,784.6 1087.9,773.4 1088.7,756.7 1089.5,767.3 1090.3,773.8 1091.0,764.2 1091.8,764.0 1092.6,787.2 1093.4,800.7 1094.2,787.1 1095.0,780.3 1095.8,794.7 1096.6,799.7 1097.4,791.6 1098.1,800.6 1098.9,805.4 1099.7,788.1 1100.5,779.6 1101.3,791.9 1102.1,800.1 1102.9,799.9 1103.7,774.8 1104.5,771.2 1105.2,767.5 1106.0,763.4 1106.8,786.1 1107.6,794.3 1108.4,789.2 1109.2,809.1 1110.0,810.5 1110.8,804.2 1111.6,802.8 1112.3,798.3 1113.1,779.2 1113.9,794.5 1114.7,792.2 1115.5,770.1 1116.3,784.4 1117.1,791.1 1117.9,796.2 1118.7,786.5 1119.4,787.9 1120.2,788.8 1121.0,780.9 1121.8,791.4 1122.6,791.5 1123.4,791.2 1124.2,787.7 1125.0,802.1 1125.8,799.2 1126.5,790.0 1127.3,799.9 1128.1,814.4 1128.9,728.9 1129.7,777.0 1130.5,792.0 1131.3,795.0 1132.1,780.9 1132.9,776.4 1133.6,790.4 1134.4,775.5 1135.2,791.4 1136.0,796.0 1136.8,766.4 1137.6,765.2 1138.4,764.9 1139.2,786.8 1140.0,813.4 1140.7,808.2 1141.5,765.0 1142.3,769.2 1143.1,796.1 1143.9,808.3 1144.7,791.3 1145.5,775.0 1146.3,782.1 1147.1,781.9 1147.8,775.4 1148.6,772.7 1149.4,784.9 1150.2,787.3 1151.0,781.0 1151.8,772.5 1152.6,761.4 1153.4,775.2 1154.2,795.3 1154.9,778.7 1155.7,768.5 1156.5,796.3 1157.3,806.1 1158.1,814.0 1158.9,791.6 1159.7,770.5 1160.5,767.9 1161.3,806.6 1162.0,820.5 1162.8,781.7 1163.6,774.1 1164.4,785.0 1165.2,774.4 1166.0,775.0 1166.8,779.1 1167.6,790.4 1168.4,800.0 1169.1,794.1 1169.9,794.8 1170.7,784.6 1171.5,776.7 1172.3,750.2 1173.1,758.4 1173.9,785.2 1174.7,782.5 1175.5,791.5 1176.2,800.3 1177.0,808.2 1177.8,806.0 1178.6,801.0 1179.4,784.0 1180.2,770.6 1181.0,768.5 1181.8,768.5 1182.6,763.6 1183.3,770.5 1184.1,780.8 1184.9,784.6 1185.7,770.7 1186.5,755.2 1187.3,773.8 1188.1,790.4 1188.9,800.7 1189.7,792.0 1190.4,772.6 1191.2,778.4 1192.0,808.6 1192.8,809.5 1193.6,819.2 1194.4,814.2 1195.2,781.4 1196.0,783.8 1196.8,790.7 1197.5,792.1 1198.3,790.6 1199.1,785.6 1199.9,775.5 1200.7,759.0 1201.5,766.2 1202.3,768.6 1203.1,774.7 1203.9,775.8 1204.6,788.4 1205.4,793.7 1206.2,736.7 1207.0,784.3 1207.8,778.7 1208.6,771.7 1209.4,771.4 1210.2,772.4 1211.0,781.0 1211.7,782.8 1212.5,779.7 1213.3,767.1 1214.1,780.2 1214.9,768.6 1215.7,763.8 1216.5,769.5 1217.3,680.0 1218.1,777.0 1218.8,767.2 1219.6,757.6 1220.4,768.5 1221.2,792.7 1222.0,780.2 1222.8,763.6 1223.6,766.5 1224.4,672.2 1225.2,789.0 1225.9,769.7 1226.7,781.5 1227.5,782.5 1228.3,764.4 1229.1,781.9 1229.9,797.1 1230.7,792.4 1231.5,790.5 1232.3,795.2 1233.0,788.7 1233.8,785.3 1234.6,783.6 1235.4,784.3 1236.2,774.9 1237.0,784.8 1237.8,772.8 1238.6,765.8 1239.4,788.9 1240.1,810.3 1240.9,799.8 1241.7,782.3 1242.5,786.3 1243.3,778.1 1244.1,778.2 1244.9,771.4 1245.7,751.9 1246.5,768.6 1247.2,765.6 1248.0,760.8 1248.8,751.8 1249.6,750.4 1250.4,766.3 1251.2,796.8 1252.0,808.6 1252.8,795.2 1253.6,796.0 1254.3,775.4 1255.1,756.7 1255.9,778.2 1256.7,787.9 1257.5,781.2 1258.3,788.3 1259.1,788.8 1259.9,768.1 1260.7,759.2 1261.4,773.5 1262.2,779.1 1263.0,783.8 1263.8,804.8 1264.6,811.2 1265.4,791.4 1266.2,797.7 1267.0,805.4 1267.8,805.3 1268.5,802.3 1269.3,790.1 1270.1,804.9 1270.9,822.0 1271.7,805.2 1272.5,786.4 1273.3,799.5 1274.1,810.2 1274.9,797.1 1275.6,790.5 1276.4,801.6 1277.2,782.4 1278.0,790.6 1278.8,786.6 1279.6,779.9 1280.4,802.9 1281.2,795.6 1282.0,779.6 1282.7,791.6 1283.5,779.2 1284.3,760.4 1285.1,774.4 1285.9,794.8 1286.7,802.1 1287.5,797.0 1288.3,795.3 1289.1,797.2 1289.8,796.6 1290.6,807.3 1291.4,800.6 1292.2,798.9 1293.0,795.3 1293.8,735.4 1294.6,784.2 1295.4,810.3 1296.2,801.7 1296.9,826.0 1297.7,792.2 1298.5,787.5 1299.3,789.3 1300.1,784.5 1300.9,783.8 1301.7,776.8 1302.5,798.3 1303.3,781.9 1304.1,765.1 1304.8,777.4 1305.6,784.1 1306.4,784.2 1307.2,776.3 1308.0,805.9 1308.8,833.3 1309.6,790.0 1310.4,785.5 1311.2,786.6 1311.9,780.8 1312.7,759.3 1313.5,766.2 1314.3,788.6 1315.1,797.3 1315.9,806.4 1316.7,786.9 1317.5,800.6 1318.3,824.3 1319.0,787.1 1319.8,772.1 1320.6,783.2 1321.4,791.4 1322.2,800.0 1323.0,790.6 1323.8,780.0 1324.6,800.4 1325.4,831.3 1326.1,805.5 1326.9,757.2 1327.7,770.3 1328.5,780.2 1329.3,793.3 1330.1,799.8 1330.9,819.9 1331.7,816.4 1332.5,808.0 1333.2,797.5 1334.0,793.2 1334.8,802.0 1335.6,813.3 1336.4,803.6 1337.2,796.0 1338.0,808.8 1338.8,800.8 1339.6,789.0 1340.3,748.3 1341.1,778.9 1341.9,769.0 1342.7,757.7 1343.5,796.8 1344.3,805.1 1345.1,798.6 1345.9,809.1 1346.7,806.6 1347.4,789.5 1348.2,761.5 1349.0,781.9 1349.8,807.8 1350.6,826.9 1351.4,833.1 1352.2,816.4 1353.0,774.8 1353.8,761.6 1354.5,791.3 1355.3,801.4 1356.1,806.1 1356.9,797.4 1357.7,652.9 1358.5,776.3 1359.3,790.0 1360.1,790.8 1360.9,797.6 1361.6,834.0 1362.4,794.6 1363.2,796.0 1364.0,797.1 1364.8,804.6 1365.6,799.7 1366.4,784.0 1367.2,789.4 1368.0,811.7 1368.7,802.9 1369.5,806.0 1370.3,798.5 1371.1,781.8 1371.9,778.9 1372.7,790.2 1373.5,797.8 1374.3,794.4 1375.1,773.9 1375.8,776.4 1376.6,794.3 1377.4,800.8 1378.2,768.7 1379.0,783.2 1379.8,787.8 1380.6,792.0 1381.4,788.3 1382.2,801.2 1382.9,815.8 1383.7,805.7 1384.5,800.9 1385.3,795.4 1386.1,786.2 1386.9,795.0 1387.7,788.3 1388.5,780.5 1389.3,787.4 1390.0,793.3 1390.8,802.1 1391.6,794.0 1392.4,793.2 1393.2,815.7 1394.0,820.3 1394.8,819.0 1395.6,808.3 1396.4,794.3 1397.1,787.6 1397.9,794.1 1398.7,807.5 1399.5,794.7 1400.3,776.4 1401.1,782.0 1401.9,777.9 1402.7,786.4 1403.5,775.3 1404.2,774.7 1405.0,792.2 1405.8,788.8 1406.6,778.0 1407.4,809.7 1408.2,823.0 1409.0,796.3 1409.8,811.8 1410.6,794.6 1411.3,786.9 1412.1,786.2 1412.9,836.0 1413.7,810.7 1414.5,807.0 1415.3,788.7 1416.1,783.3 1416.9,774.4 1417.7,790.3 1418.4,800.5 1419.2,776.9 1420.0,834.0 1420.8,802.4 1421.6,818.6 1422.4,818.3 1423.2,794.0 1424.0,787.2 1424.8,798.0 1425.5,792.8 1426.3,796.2 1427.1,817.9 1427.9,825.9 1428.7,807.4 1429.5,798.1 1430.3,794.5 1431.1,773.8 1431.9,782.4 1432.6,793.4 1433.4,827.0 1434.2,818.0 1435.0,800.8 1435.8,782.6 1436.6,765.0 1437.4,801.8 1438.2,818.2 1439.0,797.4 1439.7,805.5 1440.5,802.0 1441.3,783.3 1442.1,808.0 1442.9,820.0 1443.7,805.5 1444.5,800.3 1445.3,799.4 1446.1,779.8 1446.8,795.3 1447.6,805.1 1448.4,789.3 1449.2,801.9 1450.0,785.6 1450.8,765.9 1451.6,780.5 1452.4,784.2 1453.2,790.4 1453.9,786.9 1454.7,801.3 1455.5,792.7 1456.3,794.5 1457.1,788.1 1457.9,794.3 1458.7,811.2 1459.5,802.2 1460.3,785.3 1461.0,782.1 1461.8,808.3 1462.6,808.8 1463.4,795.0 1464.2,791.6 1465.0,777.0 1465.8,771.9 1466.6,779.9 1467.4,796.1 1468.1,795.8 1468.9,788.3 1469.7,803.3 1470.5,807.9 1471.3,749.6 1472.1,806.0 1472.9,792.8 1473.7,791.5 1474.5,797.6 1475.2,797.2 1476.0,836.0 1476.8,784.9 1477.6,800.7 1478.4,786.4 1479.2,778.4 1480.0,774.2 1480.8,798.1 1481.6,815.3 1482.3,814.6 1483.1,799.1 1483.9,769.4 1484.7,770.0 1485.5,775.7 1486.3,780.5 1487.1,801.5 1487.9,797.6 1488.7,792.8 1489.4,792.0 1490.2,775.3 1491.0,769.4 1491.8,776.5 1492.6,794.6 1493.4,800.3 1494.2,805.2 1495.0,801.8 1495.8,775.4 1496.5,778.2 1497.3,784.6 1498.1,771.9 1498.9,783.4 1499.7,808.7 1500.5,817.4 1501.3,812.9 1502.1,798.0 1502.9,796.0 1503.6,805.7 1504.4,795.9 1505.2,803.6 1506.0,812.6 1506.8,793.6 1507.6,785.5 1508.4,795.6 1509.2,806.4 1510.0,806.4 1510.7,803.7 1511.5,797.7 1512.3,774.3 1513.1,779.2 1513.9,791.5 1514.7,779.9 1515.5,770.0 1516.3,771.4 1517.1,779.6 1517.8,787.1 1518.6,785.3 1519.4,805.2 1520.2,822.1 1521.0,811.0" fill="none" stroke="#1ea3ea" stroke-width="2.4" stroke-linejoin="round" stroke-linecap="round"/>
<path d="M989.1,681.5V799.8H1050.6" stroke="#000" stroke-width="3.2" fill="none"/>
<text x="975" y="741.7" text-anchor="end" font-size="33.4">10%</text>
<text x="965" y="776.6" text-anchor="end" font-size="33.4">Δ<tspan font-style="italic">F</tspan>/<tspan font-style="italic">F</tspan></text>
<text x="964.8" y="783.2" font-size="22">0</text>
<text x="984" y="839" font-size="33.4">0.2 s</text>
<defs>
<filter id="b1" x="-50%" y="-50%" width="200%" height="200%"><feGaussianBlur stdDeviation="30"/></filter>
<filter id="b2" x="-50%" y="-50%" width="200%" height="200%"><feGaussianBlur stdDeviation="13"/></filter>
<filter id="b3" x="-50%" y="-50%" width="200%" height="200%"><feGaussianBlur stdDeviation="7.5"/></filter>
<filter id="b4" x="-50%" y="-50%" width="200%" height="200%"><feGaussianBlur stdDeviation="4"/></filter>
<clipPath id="cimg"><rect x="1555.2" y="756.5" width="223.6" height="296.4"/></clipPath>
<linearGradient id="gbg" x1="0" y1="0" x2="0" y2="1"><stop offset="0" stop-color="#3b3b3b"/><stop offset="0.5" stop-color="#404040"/><stop offset="1" stop-color="#2d2d2d"/></linearGradient>
</defs>
<g clip-path="url(#cimg)">
<rect x="1555.2" y="756.5" width="223.6" height="296.4" fill="url(#gbg)"/>
<ellipse cx="1655" cy="880" rx="120" ry="130" fill="#505050" filter="url(#b1)"/>
<ellipse cx="1660" cy="898" rx="80" ry="66" transform="rotate(-15 1660 898)" fill="#808080" filter="url(#b1)"/>
<path d="M1622,868 L1700,856 L1710,880 L1696,926 L1616,940 L1604,908 Z" fill="#a8a8a8" filter="url(#b2)"/>
<path d="M1626,872 L1698,862 L1706,882 L1692,920 L1620,932 L1612,906 Z" fill="#ececec" filter="url(#b3)"/>
<path d="M1632,908 Q1668,902 1700,878" stroke="#fff" stroke-width="16" fill="none" stroke-linecap="round" filter="url(#b4)"/>
</g>
<text x="1663" y="1006" font-size="33.4" style="fill:#fff;stroke:#fff">10 µm</text>
<rect x="1677" y="1024" width="64.6" height="7.6" fill="#fff"/>
</svg>
</body></html>
